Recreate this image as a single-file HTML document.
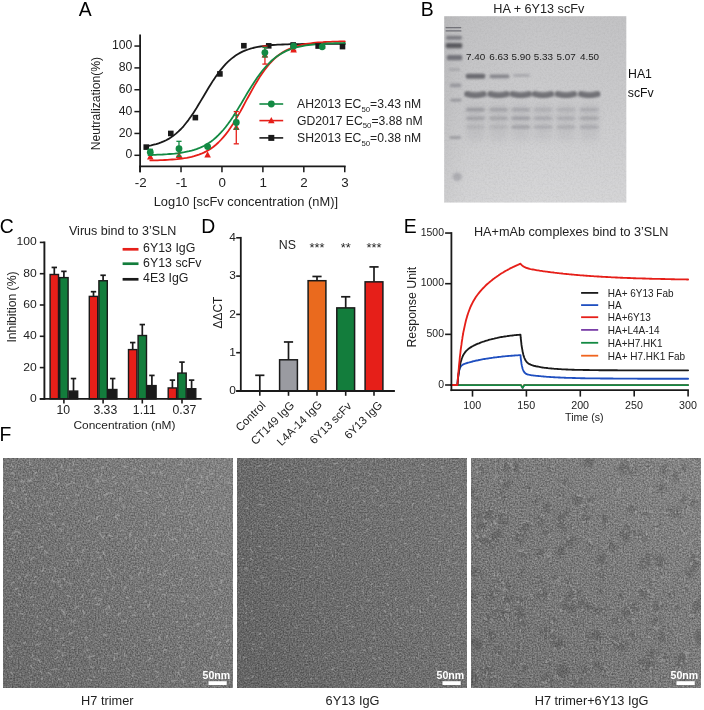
<!DOCTYPE html>
<html lang="en"><head><meta charset="utf-8"><title>Figure</title>
<style>
html,body{margin:0;padding:0;background:#fff;}
body{width:704px;height:710px;overflow:hidden;font-family:"Liberation Sans",Arial,sans-serif;}
svg text{font-family:"Liberation Sans",Arial,sans-serif;}
</style></head><body>
<svg width="704" height="710" viewBox="0 0 704 710" font-family='"Liberation Sans", Arial, Helvetica, sans-serif' style="display:block;will-change:transform">
<rect width="704" height="710" fill="#fff"/>
<defs><filter id="blur0" x="-2%" y="-2%" width="104%" height="104%"><feGaussianBlur stdDeviation="0.45"/></filter><filter id="blur1" x="-5%" y="-5%" width="110%" height="110%"><feGaussianBlur stdDeviation="1.4"/></filter>
<filter id="grain0" x="0" y="0" width="100%" height="100%" color-interpolation-filters="sRGB">
<feTurbulence type="fractalNoise" baseFrequency="0.65" numOctaves="2" seed="3" result="n"/>
<feColorMatrix in="n" type="matrix" values="0.4 0 0 0 0.262  0.4 0 0 0 0.262  0.4 0 0 0 0.262  0 0 0 0 1"/>
<feComposite in2="SourceGraphic" operator="in"/>
</filter>
<filter id="grain1" x="0" y="0" width="100%" height="100%" color-interpolation-filters="sRGB">
<feTurbulence type="fractalNoise" baseFrequency="0.65" numOctaves="2" seed="11" result="n"/>
<feColorMatrix in="n" type="matrix" values="0.38 0 0 0 0.242  0.38 0 0 0 0.242  0.38 0 0 0 0.242  0 0 0 0 1"/>
<feComposite in2="SourceGraphic" operator="in"/>
</filter>
<filter id="grain2" x="0" y="0" width="100%" height="100%" color-interpolation-filters="sRGB">
<feTurbulence type="fractalNoise" baseFrequency="0.65" numOctaves="2" seed="23" result="n"/>
<feColorMatrix in="n" type="matrix" values="0.4 0 0 0 0.278  0.4 0 0 0 0.278  0.4 0 0 0 0.278  0 0 0 0 1"/>
<feComposite in2="SourceGraphic" operator="in"/>
</filter>
<linearGradient id="emg0" x1="0" y1="1" x2="1" y2="0"><stop offset="0" stop-color="#000" stop-opacity="0.10"/><stop offset="0.5" stop-color="#000" stop-opacity="0"/><stop offset="0.5" stop-color="#fff" stop-opacity="0"/><stop offset="1" stop-color="#fff" stop-opacity="0.09"/></linearGradient>
<linearGradient id="emg1" x1="0" y1="0.75" x2="1" y2="0.25"><stop offset="0" stop-color="#000" stop-opacity="0.08"/><stop offset="0.5" stop-color="#000" stop-opacity="0"/><stop offset="0.5" stop-color="#fff" stop-opacity="0"/><stop offset="1" stop-color="#fff" stop-opacity="0.05"/></linearGradient>
<linearGradient id="emg2" x1="0" y1="1" x2="1" y2="0"><stop offset="0" stop-color="#000" stop-opacity="0.08"/><stop offset="0.5" stop-color="#000" stop-opacity="0"/><stop offset="0.5" stop-color="#fff" stop-opacity="0"/><stop offset="1" stop-color="#fff" stop-opacity="0.08"/></linearGradient>
<clipPath id="clip3"><rect x="471" y="458" width="230" height="230"/></clipPath></defs>
<rect x="3.00" y="458.00" width="230.00" height="230.00" fill="#777" filter="url(#grain0)"/>
<rect x="3.00" y="458.00" width="230.00" height="230.00" fill="url(#emg0)"/>
<path d="M11.5 464.4L13.1 467.5M13.7 473.1L10.9 473.2M14.8 486.5L14.3 489.7M11.9 490.9L14.2 491.6M11.4 500.4L12.2 503.6M10.5 516.0L8.1 518.1M16.0 531.7L13.9 532.9M9.3 538.4L11.7 538.8M12.2 548.9L14.3 550.0M6.8 570.2L9.6 571.5M13.9 582.1L11.5 583.2M12.7 644.8L12.1 646.3M7.6 647.7L9.3 650.5M9.5 656.5L12.2 656.7M10.8 672.2L12.4 674.0M20.5 481.3L23.2 481.8M24.6 490.1L22.3 491.2M17.7 505.1L17.9 507.8M20.9 519.2L19.2 520.4M17.5 531.5L20.1 533.4M21.6 561.1L22.9 563.1M18.8 576.6L20.2 577.4M17.6 588.1L15.0 589.6M18.5 593.6L20.1 595.3M16.3 604.0L17.6 605.8M20.2 613.2L23.1 614.0M25.3 642.1L24.0 643.0M29.7 462.6L30.4 464.4M31.3 480.2L27.9 480.2M31.0 480.7L27.7 480.9M24.6 494.6L26.5 494.9M25.9 498.1L26.0 501.6M33.1 557.3L30.9 559.5M28.0 574.1L25.8 576.3M32.8 596.1L30.1 597.8M33.3 604.3L33.0 606.1M32.8 655.2L32.4 656.6M33.4 658.7L35.8 659.1M30.6 665.5L32.8 668.1M31.6 681.6L30.4 684.9M36.4 472.1L34.5 474.0M43.8 496.8L44.2 499.2M38.1 505.0L40.0 506.7M38.0 523.3L39.3 524.0M39.4 528.7L40.4 529.7M42.4 546.8L38.7 547.6M43.4 568.1L42.3 571.5M36.1 576.5L34.7 577.3M36.1 581.9L35.1 583.6M37.5 615.6L37.2 617.3M40.7 623.7L38.2 624.1M37.5 631.5L36.8 633.7M39.6 644.3L36.2 644.7M38.3 659.2L40.0 662.2M40.6 671.2L41.7 673.1M42.3 677.7L42.1 679.3M54.0 477.7L52.3 478.1M43.5 488.1L45.7 488.6M46.9 500.8L47.2 503.1M49.6 513.6L52.1 514.1M44.9 551.1L47.1 553.2M52.1 580.2L53.9 581.9M53.0 596.5L50.7 597.1M47.5 619.1L46.6 620.3M50.5 628.1L50.3 629.9M48.2 672.8L51.0 674.2M61.7 465.3L61.8 468.2M55.9 473.7L57.0 476.1M59.3 483.0L57.9 484.4M60.2 503.5L59.4 505.8M54.3 524.3L55.5 526.0M59.9 528.5L61.8 531.3M54.6 567.8L55.3 571.5M59.2 581.1L57.9 582.9M60.8 584.4L60.4 586.8M61.2 609.4L62.9 611.5M55.3 629.3L57.9 631.1M63.6 637.9L60.4 638.4M58.2 650.5L59.4 651.4M57.7 657.3L55.2 658.8M56.3 668.8L53.2 669.7M61.5 678.6L58.9 679.6M68.1 470.1L71.3 470.2M69.5 483.8L66.3 485.0M66.6 497.8L67.9 498.2M62.4 523.9L64.5 524.5M69.2 543.8L67.9 544.7M67.5 563.0L67.3 564.7M63.2 578.8L64.7 579.7M67.6 582.6L70.2 583.7M66.8 595.3L70.0 596.5M63.8 611.5L65.2 615.0M71.0 620.0L71.9 622.0M72.0 632.8L68.9 634.0M64.2 645.2L62.2 645.3M63.0 653.5L62.4 656.0M69.6 668.2L68.8 669.4M68.3 682.9L68.3 684.9M73.1 462.8L73.6 465.0M72.9 482.0L75.1 483.5M76.1 494.9L78.8 495.4M76.4 502.9L74.8 505.3M79.8 535.3L77.9 536.3M71.8 547.6L72.0 550.9M77.5 558.5L78.3 562.1M77.8 606.2L74.8 608.4M74.9 619.8L73.5 621.9M72.5 647.2L73.6 648.7M86.3 485.2L87.5 487.1M90.0 520.8L87.9 521.1M83.2 549.6L82.1 552.4M89.4 579.4L87.9 580.9M82.8 594.8L82.0 597.3M82.9 610.2L84.2 613.7M85.1 637.2L87.4 637.4M86.1 638.2L86.1 640.0M86.2 649.5L87.7 650.3M89.3 655.7L90.0 659.2M88.2 679.1L91.7 680.1M94.2 468.4L93.3 470.0M96.6 478.7L98.4 480.7M98.4 481.5L95.5 481.9M99.1 497.4L99.7 499.3M99.1 515.6L96.8 517.8M97.3 517.0L96.6 519.7M95.8 551.9L98.6 552.7M93.4 573.5L91.6 575.4M95.1 589.4L92.5 591.0M96.8 597.3L94.8 598.4M95.9 604.2L99.7 604.5M94.0 656.0L90.4 656.7M90.6 666.3L93.2 667.8M93.4 676.0L94.2 677.4M103.5 466.7L101.7 468.2M101.7 474.6L100.2 476.8M102.2 479.9L103.4 481.2M107.5 493.8L104.0 495.0M99.6 533.3L101.6 535.7M104.5 535.8L102.4 537.9M103.0 552.0L104.5 554.7M100.2 557.0L100.2 559.0M107.9 576.8L106.4 579.4M104.3 589.0L105.3 592.1M101.8 599.6L98.8 600.9M107.0 608.1L105.9 609.2M106.7 612.8L107.4 614.5M104.1 634.1L106.6 636.0M105.6 668.3L102.0 668.3M115.2 476.2L112.3 478.0M117.6 482.7L115.0 483.9M109.2 493.1L112.6 493.3M115.3 516.3L117.6 519.3M108.7 535.4L111.9 536.5M107.7 568.7L110.1 571.3M112.4 575.8L113.5 576.7M112.9 587.7L112.4 589.4M108.9 605.2L109.4 608.4M117.3 653.2L114.7 653.7M114.5 657.4L114.0 660.6M123.1 466.0L126.3 466.7M121.9 482.8L124.3 484.1M120.2 497.6L119.5 500.1M123.3 504.3L123.6 507.1M117.5 514.6L119.3 515.4M122.9 529.6L120.4 531.1M125.8 537.3L124.9 538.4M125.6 587.0L124.1 589.7M126.4 597.9L128.0 598.0M121.0 613.0L118.2 614.5M126.0 620.8L123.0 621.2M121.5 639.0L122.2 640.8M124.3 653.1L124.7 656.3M135.0 468.0L133.2 469.5M132.0 477.2L132.1 480.0M133.7 507.3L132.0 507.6M130.2 532.9L130.3 536.5M135.4 540.7L135.5 542.1M136.0 545.1L135.6 548.7M131.0 576.2L131.3 579.4M131.0 606.7L128.6 607.8M133.1 614.4L135.4 615.5M134.9 644.4L135.3 646.2M127.3 668.5L129.4 670.0M132.9 673.7L132.9 676.3M141.3 465.3L142.7 466.2M139.4 470.8L142.4 472.9M137.3 485.5L137.1 487.5M140.8 490.8L137.2 491.5M144.9 498.5L144.1 500.6M143.0 539.1L146.1 540.5M140.6 551.4L142.3 552.9M142.5 567.3L141.5 568.8M140.5 572.1L138.6 575.2M137.5 591.4L140.3 591.5M146.5 601.6L144.6 601.8M151.1 472.8L154.5 472.9M145.0 491.6L147.6 493.4M146.4 522.2L146.4 524.9M148.2 568.8L148.2 571.1M150.9 585.2L152.8 585.6M150.0 603.8L147.7 606.8M152.7 613.6L154.1 616.3M151.4 638.8L148.8 640.1M150.7 658.2L148.0 660.2M146.3 682.0L146.9 683.3M158.8 462.7L159.3 464.6M160.1 472.0L162.5 473.8M159.1 494.2L161.2 497.2M161.7 513.1L164.9 514.4M156.0 534.4L154.2 535.9M160.7 549.4L163.7 551.6M159.2 574.1L161.7 574.7M161.7 589.6L159.8 589.7M165.2 594.2L162.7 594.5M158.9 635.8L160.0 639.3M155.6 671.6L157.5 672.3M158.4 676.0L156.7 677.1M165.5 508.6L165.7 510.3M168.5 532.2L169.0 534.8M173.6 539.1L170.5 539.7M170.3 559.0L169.6 560.6M167.8 570.1L164.5 571.3M165.3 573.3L163.7 575.6M171.9 594.9L173.6 595.2M167.1 635.7L166.8 637.7M166.4 649.7L163.4 650.9M174.6 680.5L171.4 681.0M181.6 462.7L180.2 464.4M183.5 492.5L180.7 492.6M182.5 498.5L179.2 500.3M180.4 510.8L182.3 511.8M180.3 529.2L178.0 529.8M174.9 538.4L176.8 540.7M177.1 554.6L174.1 555.7M182.7 578.7L179.7 579.6M175.2 585.0L172.4 585.6M180.9 595.6L182.4 596.1M177.5 621.7L176.2 622.6M180.1 636.1L178.7 637.8M180.5 645.7L180.2 647.6M179.3 655.3L180.9 658.2M177.6 672.2L180.0 675.1M189.2 478.6L186.4 480.2M186.4 485.5L186.1 487.7M189.0 514.7L192.2 515.1M190.4 522.7L192.1 524.5M184.5 535.0L186.5 536.2M189.5 549.8L187.6 550.0M193.4 558.0L190.6 558.7M189.0 594.4L187.4 596.7M181.4 601.2L184.5 601.5M186.6 615.3L186.0 617.7M184.2 662.0L182.4 662.4M181.4 667.4L184.6 667.9M182.9 679.4L183.8 682.5M200.5 474.7L201.9 477.9M201.5 481.3L198.2 483.3M193.6 504.8L191.8 507.4M197.5 528.0L197.7 531.0M193.0 550.7L193.4 552.0M194.5 556.6L195.4 557.9M196.9 567.6L195.1 568.0M194.8 575.1L197.3 575.6M196.4 597.6L198.1 598.8M200.1 614.0L200.0 616.5M198.8 624.1L197.0 624.7M193.7 651.1L193.3 652.9M193.9 681.7L192.1 682.7M207.5 476.1L207.1 479.4M201.4 491.8L203.5 493.4M209.3 506.1L208.8 508.4M206.1 510.7L204.2 511.1M207.3 520.7L206.5 522.2M203.5 613.2L203.6 614.6M208.8 630.6L212.0 632.4M204.9 667.0L206.6 667.1M213.0 473.2L211.2 473.8M217.6 485.6L215.3 487.5M217.8 523.1L217.5 525.0M217.4 530.8L218.1 532.2M215.3 550.3L218.1 552.1M210.9 583.2L212.6 585.7M214.7 591.4L214.8 593.8M217.6 617.5L216.3 618.7M215.3 636.8L213.9 638.2M220.9 642.1L217.9 644.2M218.9 654.4L215.9 655.6M212.1 655.9L210.9 658.6M222.6 476.1L220.4 476.4M227.2 481.9L230.0 482.8M224.0 507.3L223.8 509.2M220.9 552.6L224.1 553.9M222.0 579.8L221.0 583.3M219.7 589.0L220.6 590.9M219.3 607.2L221.3 607.4M226.0 625.9L226.1 627.8M223.8 633.9L223.0 635.1M229.5 639.3L226.7 641.6M219.5 662.7L220.3 665.4M222.5 678.5L221.9 679.7" stroke="#c2c2c2" stroke-width="1.45" stroke-linecap="round" fill="none" opacity="0.42" filter="url(#blur0)"/>
<text transform="translate(202.5,679.0) scale(1.02,1)" font-size="10.4" text-anchor="start" fill="#fff" font-weight="bold">50nm</text>
<rect x="208.50" y="681.20" width="18.20" height="3.80" fill="#fff"/>
<text transform="translate(107.3,704.5) scale(1.03,1)" font-size="12.4" text-anchor="middle" fill="#222">H7 trimer</text>
<rect x="237.00" y="458.00" width="230.00" height="230.00" fill="#777" filter="url(#grain1)"/>
<rect x="237.00" y="458.00" width="230.00" height="230.00" fill="url(#emg1)"/>
<path d="M245.4 486.9L246.4 487.0M242.2 495.1L243.3 496.7M248.0 508.2L246.2 508.3M248.3 529.8L247.1 530.2M250.1 547.7L250.9 549.4M243.2 558.7L241.8 558.7M245.0 568.0L247.2 569.5M244.5 604.2L246.0 606.4M246.4 612.5L245.6 613.5M246.7 622.7L244.9 623.0M243.5 656.9L244.6 657.6M249.1 677.7L247.7 678.7M259.8 465.4L257.9 466.1M259.8 494.8L259.1 496.1M258.8 504.1L261.4 504.8M258.2 522.0L258.1 523.1M251.0 532.2L251.9 533.3M259.2 546.3L260.7 546.7M251.3 550.7L252.3 551.8M250.5 558.4L252.7 559.8M257.4 569.8L259.3 570.0M255.6 580.9L256.5 583.4M252.1 610.1L251.4 611.6M253.5 618.4L252.0 619.6M261.0 633.3L259.0 634.4M254.2 644.2L252.9 644.4M251.8 648.7L253.6 649.7M253.7 676.1L251.8 677.6M262.6 496.2L262.7 497.3M264.5 504.2L263.3 505.8M269.0 514.6L270.1 515.3M260.9 577.0L263.5 577.6M269.0 582.5L268.7 584.9M262.1 642.0L261.9 643.4M259.8 647.3L262.2 647.9M271.2 464.0L269.1 465.2M278.5 516.5L280.4 516.7M277.3 525.5L276.0 525.6M269.4 547.9L270.8 548.1M276.0 557.8L277.5 558.5M277.9 605.0L276.2 606.6M272.7 632.1L274.0 633.3M278.3 643.4L279.0 644.9M274.2 652.5L273.8 653.5M275.2 668.2L276.8 668.5M276.5 679.8L274.6 680.7M280.3 467.3L280.5 469.0M288.8 479.0L289.6 481.3M279.8 517.2L281.0 517.8M282.8 557.6L281.4 559.7M283.6 605.1L284.2 606.4M285.7 647.9L284.8 649.0M286.0 682.4L287.0 684.6M292.4 463.5L291.4 463.8M291.7 507.7L292.9 509.7M297.9 514.5L299.6 514.8M291.5 556.4L293.0 556.6M292.6 567.9L294.7 568.9M290.9 587.4L290.3 588.5M296.8 624.9L297.3 626.5M295.3 627.5L296.4 628.5M296.2 678.2L295.7 680.6M304.2 468.4L305.5 470.2M301.8 478.6L303.6 480.0M308.9 482.0L306.4 482.3M299.3 504.7L301.0 505.2M301.6 615.2L302.4 616.0M304.2 644.9L303.0 646.5M305.9 655.6L307.6 655.7M317.6 494.9L317.8 496.5M314.9 533.9L314.6 535.3M315.9 544.1L317.5 545.1M312.4 552.4L310.8 552.7M317.9 567.0L315.5 567.4M310.9 575.6L310.3 577.2M314.5 601.7L313.0 602.3M313.8 607.0L315.0 607.1M317.5 620.7L318.4 622.1M311.8 633.5L313.0 634.1M314.9 645.7L315.6 646.4M313.5 658.4L314.0 659.7M311.3 677.9L311.0 680.0M320.6 465.5L318.3 466.9M319.4 496.0L320.7 497.9M327.9 500.7L326.4 503.0M324.8 510.0L326.7 511.0M324.5 532.0L325.2 533.4M321.7 544.5L321.6 545.9M322.8 581.8L323.9 582.3M319.3 612.6L321.0 613.2M324.3 620.9L324.4 622.2M326.9 631.8L325.9 632.2M326.1 652.7L324.7 653.7M326.1 657.3L327.7 658.9M337.5 462.7L335.3 463.9M329.9 477.6L330.5 479.8M331.4 481.6L329.3 482.9M331.3 516.4L332.3 517.3M335.8 538.1L333.1 538.6M332.5 555.2L333.0 557.2M330.2 568.8L329.2 568.9M328.4 578.0L329.4 578.4M334.0 598.5L332.8 598.6M336.8 626.2L336.9 627.8M333.0 652.4L331.7 653.1M333.9 667.9L331.8 669.8M344.5 468.9L344.1 471.4M341.8 500.1L343.1 501.4M342.4 543.6L344.3 544.5M344.2 616.6L344.8 617.6M342.7 650.7L344.7 652.2M343.7 679.3L344.1 680.4M352.8 464.8L351.8 466.7M355.2 488.1L352.7 489.2M353.5 507.2L352.7 508.2M356.0 563.2L357.1 564.8M352.0 594.8L353.9 594.8M348.5 605.4L346.7 606.8M349.8 620.6L347.8 621.8M351.8 626.2L354.4 627.1M351.3 650.2L353.2 652.1M352.9 669.6L354.1 670.7M360.4 461.7L359.0 462.6M358.9 471.4L359.5 472.7M358.0 488.1L358.6 489.1M363.1 500.4L365.0 501.8M366.7 518.8L366.0 519.9M366.0 575.3L366.5 576.8M363.3 578.8L362.0 579.0M362.2 590.9L363.5 592.9M361.6 606.6L362.2 609.3M361.8 639.4L363.1 640.2M365.1 650.4L363.6 650.6M357.0 682.5L358.9 683.4M369.1 473.6L370.8 474.9M374.0 486.3L372.1 487.2M372.3 496.5L372.1 497.7M374.3 501.7L373.2 503.2M368.7 518.9L369.1 520.5M367.1 529.2L366.6 531.1M372.3 548.8L372.7 550.9M372.3 559.1L371.1 559.4M372.3 583.3L371.3 584.5M370.9 592.1L369.2 592.1M367.2 599.9L369.8 601.0M374.9 630.9L373.7 633.3M374.7 637.2L373.1 638.4M369.3 647.6L371.8 648.1M373.4 657.7L375.2 659.5M370.2 679.4L369.0 679.9M379.3 475.0L381.2 475.4M377.0 489.0L377.1 490.5M378.0 491.2L375.8 492.3M382.7 504.9L380.4 505.6M379.4 559.6L378.3 560.2M383.4 591.7L382.5 594.2M384.1 610.4L385.8 611.7M384.3 618.9L383.4 619.9M379.1 629.4L379.3 630.4M379.0 657.7L380.3 659.4M379.4 668.1L380.5 668.8M377.9 679.2L378.1 680.4M394.1 476.3L393.6 477.9M394.9 492.7L393.6 494.6M390.8 545.6L391.4 548.0M387.4 574.1L385.8 574.4M386.4 584.3L387.9 585.7M387.1 603.5L388.7 605.5M390.6 612.8L391.0 615.5M395.4 631.7L394.8 633.4M393.3 681.2L394.7 683.0M402.9 470.0L404.1 471.2M399.9 487.5L401.1 488.8M400.4 501.6L398.6 502.5M401.3 519.4L403.8 520.2M396.4 551.1L395.6 552.5M397.1 564.7L396.0 564.9M402.8 569.1L403.0 570.7M396.2 596.9L395.3 599.5M398.1 608.9L396.4 608.9M398.2 622.4L397.2 624.4M400.3 628.1L402.1 628.4M396.0 651.8L398.2 653.6M409.7 480.7L411.0 481.1M410.2 482.4L409.3 484.5M413.6 503.4L412.0 505.2M406.5 543.6L403.9 544.0M406.7 569.1L406.5 570.3M407.6 579.6L408.8 581.1M410.7 606.5L411.8 606.9M406.9 611.0L408.4 612.9M409.6 668.0L409.9 670.5M421.8 464.3L424.2 465.6M422.1 474.7L422.7 476.7M424.5 482.1L422.7 482.3M417.0 517.4L415.5 519.1M414.9 532.5L416.1 532.6M418.8 554.4L417.7 556.6M419.7 610.4L420.7 612.0M416.1 625.5L413.6 626.5M422.5 626.8L422.5 629.4M417.0 657.7L418.2 658.9M424.8 501.3L426.7 501.7M430.7 516.4L431.1 517.8M433.3 571.8L433.3 572.8M430.8 595.4L432.8 595.4M427.7 599.4L428.5 601.3M434.1 633.0L433.7 634.5M425.0 648.2L424.2 649.0M441.7 466.7L442.3 469.1M436.1 495.4L438.8 496.2M435.0 506.8L435.8 508.2M444.4 514.6L442.7 515.9M434.9 538.5L437.0 538.8M441.1 540.9L439.0 541.4M440.3 564.5L438.9 566.0M437.2 581.2L437.8 583.4M435.8 596.7L434.7 597.0M435.1 604.7L435.6 607.0M436.2 663.6L437.4 663.8M436.9 669.4L435.9 671.1M453.5 489.1L453.0 491.7M447.9 515.7L446.8 516.3M451.4 519.5L451.5 520.6M450.1 550.3L448.3 550.8M448.3 559.9L449.1 562.2M449.0 577.7L450.8 578.7M451.1 632.5L451.0 634.2M449.1 644.9L447.7 645.7M451.7 652.3L451.9 655.0M448.6 672.9L449.7 673.9M448.9 678.7L448.6 680.1M456.0 471.1L456.9 473.2M460.7 495.4L460.2 498.1M460.5 502.6L460.7 504.5M453.8 524.0L455.3 524.5M457.1 533.3L459.3 533.5M454.0 545.1L453.7 546.7M457.2 561.5L455.4 563.2M461.6 586.7L462.7 587.6M460.0 595.3L459.6 596.4M457.8 603.6L457.1 606.2M456.0 613.3L455.0 614.7M459.3 624.6L458.3 625.7M454.8 633.2L453.8 634.3M455.2 657.4L456.2 658.5" stroke="#c0c0c0" stroke-width="1.2" stroke-linecap="round" fill="none" opacity="0.42" filter="url(#blur0)"/>
<text transform="translate(436.5,679.0) scale(1.02,1)" font-size="10.4" text-anchor="start" fill="#fff" font-weight="bold">50nm</text>
<rect x="442.50" y="681.20" width="18.20" height="3.80" fill="#fff"/>
<text transform="translate(352.5,704.5) scale(1.03,1)" font-size="12.4" text-anchor="middle" fill="#222">6Y13 IgG</text>
<rect x="471.00" y="458.00" width="230.00" height="230.00" fill="#777" filter="url(#grain2)"/>
<rect x="471.00" y="458.00" width="230.00" height="230.00" fill="url(#emg2)"/>
<g fill="#2a2a2a" opacity="0.21" filter="url(#blur1)" clip-path="url(#clip3)"><circle cx="479.7" cy="469.3" r="2.9"/><circle cx="481.0" cy="470.9" r="2.4"/><circle cx="481.3" cy="467.9" r="2.3"/><circle cx="473.2" cy="493.5" r="4.0"/><circle cx="477.4" cy="497.8" r="2.5"/><circle cx="471.1" cy="489.6" r="2.3"/><circle cx="476.9" cy="513.8" r="3.9"/><circle cx="477.1" cy="515.7" r="3.5"/><circle cx="482.8" cy="525.0" r="4.1"/><circle cx="479.0" cy="526.8" r="3.2"/><circle cx="480.9" cy="540.0" r="3.4"/><circle cx="484.4" cy="541.0" r="2.8"/><circle cx="475.3" cy="571.7" r="4.4"/><circle cx="478.4" cy="574.4" r="2.8"/><circle cx="473.2" cy="570.3" r="2.4"/><circle cx="474.1" cy="596.8" r="4.2"/><circle cx="472.3" cy="595.0" r="3.3"/><circle cx="469.9" cy="600.3" r="2.6"/><circle cx="473.9" cy="642.4" r="4.1"/><circle cx="469.6" cy="641.2" r="3.4"/><circle cx="480.2" cy="644.9" r="4.3"/><circle cx="477.1" cy="644.2" r="2.8"/><circle cx="476.2" cy="648.3" r="2.2"/><circle cx="486.9" cy="671.1" r="3.9"/><circle cx="489.3" cy="669.7" r="3.1"/><circle cx="484.7" cy="671.0" r="2.8"/><circle cx="474.6" cy="677.9" r="4.9"/><circle cx="472.6" cy="674.3" r="3.3"/><circle cx="471.1" cy="682.6" r="3.5"/><circle cx="495.9" cy="476.4" r="2.2"/><circle cx="495.6" cy="476.1" r="1.9"/><circle cx="489.5" cy="513.9" r="4.7"/><circle cx="490.7" cy="513.2" r="3.6"/><circle cx="485.9" cy="517.1" r="3.2"/><circle cx="492.8" cy="522.4" r="2.0"/><circle cx="493.2" cy="523.0" r="1.7"/><circle cx="493.3" cy="521.0" r="1.7"/><circle cx="495.5" cy="537.4" r="5.1"/><circle cx="497.7" cy="534.3" r="4.2"/><circle cx="492.6" cy="545.2" r="4.7"/><circle cx="490.1" cy="543.0" r="4.0"/><circle cx="497.4" cy="572.5" r="2.4"/><circle cx="499.0" cy="572.2" r="1.9"/><circle cx="500.9" cy="582.4" r="2.4"/><circle cx="502.1" cy="581.2" r="1.6"/><circle cx="498.7" cy="580.9" r="1.8"/><circle cx="492.2" cy="592.3" r="4.3"/><circle cx="490.3" cy="596.3" r="3.7"/><circle cx="494.3" cy="591.4" r="3.6"/><circle cx="496.9" cy="610.8" r="2.6"/><circle cx="496.0" cy="610.8" r="1.6"/><circle cx="488.7" cy="618.7" r="3.2"/><circle cx="488.8" cy="618.1" r="2.5"/><circle cx="486.1" cy="621.0" r="2.3"/><circle cx="492.3" cy="636.7" r="3.6"/><circle cx="491.2" cy="637.2" r="3.2"/><circle cx="490.8" cy="633.2" r="2.9"/><circle cx="498.6" cy="650.7" r="3.8"/><circle cx="499.0" cy="650.0" r="2.5"/><circle cx="499.8" cy="651.9" r="2.1"/><circle cx="487.5" cy="669.4" r="3.1"/><circle cx="490.0" cy="671.1" r="2.1"/><circle cx="493.2" cy="679.2" r="2.8"/><circle cx="491.7" cy="681.6" r="2.4"/><circle cx="491.2" cy="677.9" r="2.2"/><circle cx="504.4" cy="466.0" r="3.6"/><circle cx="504.9" cy="469.4" r="2.6"/><circle cx="506.8" cy="468.8" r="2.6"/><circle cx="506.7" cy="485.0" r="4.2"/><circle cx="508.6" cy="483.3" r="3.2"/><circle cx="502.7" cy="496.0" r="2.9"/><circle cx="504.9" cy="498.9" r="2.2"/><circle cx="500.8" cy="493.8" r="2.4"/><circle cx="503.8" cy="512.2" r="2.5"/><circle cx="503.8" cy="513.0" r="2.0"/><circle cx="504.7" cy="509.4" r="1.4"/><circle cx="501.8" cy="520.4" r="4.1"/><circle cx="502.7" cy="517.0" r="3.6"/><circle cx="505.9" cy="522.8" r="2.3"/><circle cx="508.0" cy="586.5" r="3.1"/><circle cx="507.3" cy="584.9" r="1.8"/><circle cx="511.4" cy="588.4" r="2.4"/><circle cx="508.0" cy="600.6" r="3.7"/><circle cx="512.1" cy="597.3" r="2.2"/><circle cx="506.8" cy="597.5" r="2.1"/><circle cx="503.6" cy="614.3" r="4.7"/><circle cx="500.3" cy="615.1" r="3.4"/><circle cx="506.4" cy="618.0" r="2.2"/><circle cx="507.2" cy="619.4" r="1.8"/><circle cx="512.1" cy="662.6" r="3.1"/><circle cx="514.3" cy="665.4" r="1.9"/><circle cx="515.1" cy="662.1" r="2.4"/><circle cx="515.9" cy="468.7" r="3.8"/><circle cx="516.2" cy="466.1" r="3.4"/><circle cx="514.9" cy="468.8" r="2.6"/><circle cx="529.3" cy="488.2" r="2.7"/><circle cx="527.7" cy="487.7" r="2.3"/><circle cx="527.1" cy="525.5" r="4.0"/><circle cx="524.4" cy="526.9" r="3.1"/><circle cx="518.6" cy="538.1" r="5.1"/><circle cx="522.4" cy="533.2" r="3.6"/><circle cx="521.5" cy="539.5" r="3.4"/><circle cx="522.1" cy="553.6" r="2.8"/><circle cx="524.6" cy="555.6" r="1.5"/><circle cx="524.7" cy="556.3" r="2.1"/><circle cx="519.1" cy="572.2" r="3.5"/><circle cx="520.5" cy="571.6" r="2.9"/><circle cx="519.5" cy="599.5" r="3.1"/><circle cx="522.1" cy="600.0" r="2.2"/><circle cx="519.3" cy="614.6" r="5.0"/><circle cx="518.2" cy="610.2" r="4.3"/><circle cx="522.7" cy="625.2" r="4.1"/><circle cx="526.9" cy="628.3" r="2.3"/><circle cx="520.7" cy="624.7" r="3.0"/><circle cx="519.4" cy="647.2" r="2.9"/><circle cx="518.8" cy="650.0" r="1.7"/><circle cx="525.0" cy="667.6" r="3.2"/><circle cx="523.1" cy="669.1" r="2.2"/><circle cx="522.5" cy="666.0" r="2.1"/><circle cx="517.2" cy="684.4" r="2.3"/><circle cx="519.1" cy="686.6" r="1.5"/><circle cx="515.2" cy="685.9" r="1.3"/><circle cx="537.4" cy="497.1" r="3.9"/><circle cx="534.2" cy="501.4" r="2.7"/><circle cx="540.4" cy="496.7" r="2.5"/><circle cx="542.5" cy="516.0" r="2.2"/><circle cx="543.9" cy="517.3" r="1.8"/><circle cx="540.2" cy="522.4" r="3.6"/><circle cx="538.9" cy="518.9" r="3.0"/><circle cx="538.6" cy="520.8" r="2.8"/><circle cx="540.6" cy="552.9" r="4.3"/><circle cx="537.8" cy="554.0" r="2.8"/><circle cx="539.9" cy="581.0" r="3.0"/><circle cx="537.2" cy="578.3" r="1.9"/><circle cx="542.2" cy="583.4" r="1.7"/><circle cx="529.7" cy="597.2" r="2.5"/><circle cx="527.3" cy="598.0" r="1.7"/><circle cx="551.3" cy="468.8" r="2.7"/><circle cx="548.4" cy="469.4" r="1.9"/><circle cx="553.4" cy="467.9" r="1.7"/><circle cx="547.1" cy="508.1" r="4.9"/><circle cx="548.2" cy="507.5" r="4.4"/><circle cx="545.6" cy="531.9" r="4.4"/><circle cx="546.2" cy="529.6" r="3.2"/><circle cx="548.0" cy="554.6" r="2.1"/><circle cx="546.7" cy="554.5" r="1.8"/><circle cx="556.8" cy="578.2" r="2.6"/><circle cx="554.4" cy="577.2" r="2.0"/><circle cx="544.0" cy="594.0" r="5.1"/><circle cx="540.2" cy="596.0" r="4.0"/><circle cx="553.1" cy="620.2" r="3.0"/><circle cx="552.7" cy="617.7" r="1.9"/><circle cx="547.0" cy="634.1" r="4.8"/><circle cx="551.4" cy="633.6" r="2.6"/><circle cx="543.0" cy="630.4" r="3.6"/><circle cx="557.0" cy="643.7" r="4.7"/><circle cx="554.9" cy="640.5" r="4.0"/><circle cx="561.0" cy="644.1" r="4.0"/><circle cx="548.7" cy="661.7" r="2.3"/><circle cx="547.8" cy="659.3" r="1.6"/><circle cx="549.6" cy="663.3" r="2.0"/><circle cx="546.5" cy="678.0" r="4.1"/><circle cx="550.7" cy="681.7" r="2.5"/><circle cx="564.8" cy="484.0" r="3.2"/><circle cx="568.1" cy="482.3" r="1.8"/><circle cx="566.5" cy="481.4" r="2.4"/><circle cx="560.0" cy="494.8" r="3.8"/><circle cx="560.0" cy="495.0" r="2.6"/><circle cx="566.3" cy="514.3" r="4.0"/><circle cx="562.0" cy="515.3" r="3.2"/><circle cx="562.3" cy="515.9" r="2.6"/><circle cx="561.3" cy="523.0" r="4.9"/><circle cx="559.5" cy="517.7" r="2.6"/><circle cx="564.8" cy="528.0" r="3.4"/><circle cx="569.8" cy="542.4" r="4.5"/><circle cx="574.8" cy="540.1" r="2.9"/><circle cx="571.3" cy="540.7" r="4.0"/><circle cx="561.0" cy="552.3" r="4.9"/><circle cx="561.9" cy="547.1" r="3.1"/><circle cx="563.8" cy="551.7" r="3.8"/><circle cx="567.3" cy="582.4" r="2.9"/><circle cx="568.7" cy="583.5" r="2.1"/><circle cx="565.7" cy="584.0" r="2.2"/><circle cx="571.5" cy="594.9" r="3.4"/><circle cx="571.9" cy="597.7" r="1.7"/><circle cx="568.8" cy="598.6" r="2.8"/><circle cx="567.4" cy="606.2" r="5.1"/><circle cx="565.6" cy="607.6" r="2.7"/><circle cx="572.3" cy="607.9" r="4.0"/><circle cx="561.3" cy="672.5" r="4.9"/><circle cx="564.9" cy="670.3" r="3.9"/><circle cx="562.5" cy="667.8" r="3.7"/><circle cx="577.4" cy="500.6" r="4.6"/><circle cx="574.8" cy="498.5" r="2.8"/><circle cx="584.5" cy="506.9" r="3.0"/><circle cx="587.8" cy="509.8" r="1.6"/><circle cx="586.5" cy="507.1" r="2.2"/><circle cx="573.7" cy="525.6" r="2.6"/><circle cx="573.2" cy="528.4" r="2.0"/><circle cx="577.3" cy="592.8" r="3.4"/><circle cx="574.4" cy="592.7" r="3.0"/><circle cx="583.3" cy="603.6" r="5.0"/><circle cx="582.2" cy="603.7" r="2.6"/><circle cx="588.7" cy="608.2" r="2.8"/><circle cx="574.8" cy="619.0" r="2.7"/><circle cx="573.6" cy="617.0" r="1.4"/><circle cx="577.4" cy="621.3" r="1.8"/><circle cx="585.6" cy="636.9" r="2.8"/><circle cx="586.8" cy="640.0" r="1.7"/><circle cx="585.2" cy="636.1" r="2.2"/><circle cx="584.2" cy="669.3" r="4.1"/><circle cx="586.9" cy="673.1" r="2.9"/><circle cx="576.9" cy="682.3" r="3.5"/><circle cx="579.7" cy="679.5" r="2.0"/><circle cx="580.0" cy="682.9" r="2.0"/><circle cx="590.3" cy="461.9" r="4.6"/><circle cx="588.9" cy="460.2" r="4.1"/><circle cx="586.4" cy="462.9" r="2.9"/><circle cx="589.0" cy="500.7" r="3.5"/><circle cx="590.6" cy="498.1" r="2.3"/><circle cx="587.2" cy="498.5" r="1.9"/><circle cx="586.2" cy="518.9" r="4.6"/><circle cx="585.5" cy="516.2" r="3.3"/><circle cx="588.3" cy="540.7" r="2.1"/><circle cx="589.3" cy="540.2" r="1.4"/><circle cx="586.9" cy="541.9" r="1.1"/><circle cx="590.2" cy="547.4" r="3.3"/><circle cx="592.0" cy="547.4" r="1.7"/><circle cx="588.0" cy="544.3" r="2.1"/><circle cx="593.6" cy="607.6" r="2.8"/><circle cx="592.3" cy="608.0" r="2.4"/><circle cx="593.6" cy="607.5" r="1.9"/><circle cx="597.3" cy="636.6" r="4.9"/><circle cx="595.1" cy="633.3" r="3.7"/><circle cx="592.6" cy="633.9" r="3.6"/><circle cx="595.0" cy="650.2" r="3.8"/><circle cx="592.7" cy="651.8" r="2.1"/><circle cx="595.0" cy="663.2" r="3.3"/><circle cx="598.4" cy="665.2" r="2.7"/><circle cx="596.7" cy="666.1" r="2.3"/><circle cx="606.2" cy="522.2" r="4.5"/><circle cx="603.9" cy="517.5" r="3.2"/><circle cx="605.9" cy="521.0" r="3.9"/><circle cx="612.0" cy="546.6" r="4.8"/><circle cx="612.4" cy="544.0" r="3.4"/><circle cx="601.0" cy="560.4" r="4.5"/><circle cx="602.9" cy="556.2" r="3.6"/><circle cx="602.8" cy="563.2" r="3.8"/><circle cx="601.3" cy="573.8" r="3.9"/><circle cx="604.2" cy="575.2" r="2.3"/><circle cx="603.4" cy="576.4" r="2.9"/><circle cx="600.2" cy="590.6" r="3.2"/><circle cx="597.8" cy="590.8" r="2.1"/><circle cx="598.8" cy="587.8" r="1.9"/><circle cx="601.7" cy="610.9" r="4.5"/><circle cx="604.5" cy="610.1" r="3.2"/><circle cx="597.3" cy="611.3" r="3.0"/><circle cx="613.7" cy="640.0" r="3.7"/><circle cx="615.8" cy="638.4" r="2.9"/><circle cx="613.5" cy="644.0" r="2.8"/><circle cx="614.4" cy="646.0" r="2.3"/><circle cx="610.7" cy="644.2" r="2.5"/><circle cx="603.3" cy="670.8" r="2.7"/><circle cx="602.9" cy="671.6" r="1.9"/><circle cx="600.4" cy="668.9" r="2.0"/><circle cx="606.8" cy="674.8" r="2.4"/><circle cx="607.6" cy="672.6" r="1.6"/><circle cx="624.9" cy="466.0" r="5.1"/><circle cx="621.8" cy="469.3" r="4.2"/><circle cx="628.8" cy="471.0" r="3.7"/><circle cx="617.7" cy="489.5" r="2.3"/><circle cx="619.2" cy="489.8" r="1.9"/><circle cx="628.2" cy="527.3" r="3.1"/><circle cx="627.4" cy="530.1" r="1.8"/><circle cx="629.2" cy="529.1" r="1.8"/><circle cx="627.4" cy="535.7" r="4.5"/><circle cx="622.5" cy="533.1" r="3.2"/><circle cx="625.7" cy="537.8" r="3.7"/><circle cx="621.1" cy="597.5" r="3.0"/><circle cx="620.7" cy="594.3" r="2.3"/><circle cx="621.3" cy="600.3" r="2.1"/><circle cx="625.9" cy="611.9" r="5.0"/><circle cx="626.3" cy="610.0" r="2.9"/><circle cx="619.0" cy="620.8" r="3.6"/><circle cx="615.4" cy="621.3" r="3.1"/><circle cx="621.1" cy="646.4" r="4.3"/><circle cx="623.0" cy="646.5" r="2.2"/><circle cx="625.6" cy="642.9" r="2.4"/><circle cx="633.8" cy="468.7" r="3.5"/><circle cx="634.8" cy="468.8" r="3.1"/><circle cx="632.9" cy="471.0" r="2.7"/><circle cx="631.9" cy="508.3" r="3.9"/><circle cx="627.9" cy="511.6" r="2.0"/><circle cx="637.3" cy="533.1" r="3.8"/><circle cx="636.6" cy="533.8" r="2.6"/><circle cx="642.5" cy="591.8" r="4.4"/><circle cx="644.9" cy="596.1" r="3.5"/><circle cx="645.4" cy="593.7" r="3.1"/><circle cx="635.5" cy="607.7" r="4.2"/><circle cx="636.5" cy="607.3" r="2.5"/><circle cx="634.3" cy="604.7" r="3.1"/><circle cx="630.8" cy="621.0" r="2.5"/><circle cx="631.3" cy="620.5" r="1.7"/><circle cx="631.3" cy="634.1" r="3.7"/><circle cx="634.8" cy="637.5" r="2.5"/><circle cx="641.6" cy="661.9" r="4.0"/><circle cx="639.5" cy="664.2" r="2.3"/><circle cx="633.1" cy="681.2" r="3.0"/><circle cx="631.1" cy="681.4" r="2.0"/><circle cx="648.1" cy="467.3" r="3.1"/><circle cx="650.4" cy="464.1" r="2.7"/><circle cx="652.0" cy="489.7" r="2.0"/><circle cx="653.8" cy="488.3" r="1.4"/><circle cx="646.0" cy="513.8" r="3.3"/><circle cx="645.9" cy="510.9" r="2.4"/><circle cx="656.5" cy="526.0" r="2.7"/><circle cx="659.0" cy="525.8" r="2.3"/><circle cx="644.9" cy="536.8" r="3.4"/><circle cx="643.3" cy="537.9" r="2.7"/><circle cx="645.9" cy="536.3" r="1.7"/><circle cx="645.8" cy="561.6" r="5.1"/><circle cx="648.7" cy="557.5" r="4.1"/><circle cx="642.1" cy="566.3" r="3.6"/><circle cx="651.5" cy="582.0" r="2.8"/><circle cx="649.1" cy="583.8" r="2.4"/><circle cx="650.8" cy="593.9" r="2.2"/><circle cx="652.1" cy="593.4" r="1.3"/><circle cx="649.9" cy="594.5" r="1.4"/><circle cx="656.0" cy="607.7" r="4.0"/><circle cx="658.0" cy="603.4" r="3.4"/><circle cx="655.7" cy="620.9" r="3.6"/><circle cx="657.9" cy="617.8" r="1.9"/><circle cx="649.1" cy="634.6" r="2.4"/><circle cx="647.8" cy="632.8" r="2.0"/><circle cx="649.1" cy="632.7" r="1.7"/><circle cx="652.6" cy="654.2" r="4.6"/><circle cx="652.3" cy="654.4" r="3.7"/><circle cx="645.9" cy="665.2" r="5.2"/><circle cx="650.2" cy="663.3" r="4.2"/><circle cx="652.8" cy="679.0" r="2.5"/><circle cx="650.6" cy="676.6" r="1.5"/><circle cx="666.0" cy="468.7" r="4.1"/><circle cx="663.1" cy="471.4" r="2.9"/><circle cx="666.7" cy="479.1" r="2.1"/><circle cx="665.2" cy="479.1" r="1.6"/><circle cx="661.0" cy="488.6" r="5.1"/><circle cx="660.4" cy="488.0" r="4.1"/><circle cx="661.8" cy="484.6" r="3.1"/><circle cx="669.2" cy="513.5" r="3.5"/><circle cx="669.5" cy="510.7" r="2.9"/><circle cx="661.1" cy="562.5" r="5.0"/><circle cx="658.6" cy="558.6" r="3.5"/><circle cx="660.4" cy="564.3" r="3.5"/><circle cx="662.5" cy="573.7" r="2.8"/><circle cx="661.2" cy="572.6" r="1.6"/><circle cx="661.0" cy="603.5" r="2.9"/><circle cx="659.1" cy="604.5" r="1.7"/><circle cx="663.0" cy="605.6" r="2.4"/><circle cx="658.3" cy="627.1" r="2.4"/><circle cx="660.6" cy="626.2" r="1.9"/><circle cx="662.0" cy="636.4" r="4.9"/><circle cx="660.0" cy="637.2" r="2.5"/><circle cx="662.7" cy="632.2" r="2.7"/><circle cx="665.1" cy="656.8" r="3.3"/><circle cx="665.2" cy="654.4" r="2.2"/><circle cx="666.9" cy="658.8" r="2.6"/><circle cx="683.9" cy="467.5" r="3.7"/><circle cx="683.7" cy="469.4" r="2.8"/><circle cx="675.9" cy="476.8" r="4.9"/><circle cx="675.0" cy="475.8" r="3.2"/><circle cx="683.6" cy="499.1" r="3.6"/><circle cx="683.0" cy="502.1" r="1.9"/><circle cx="682.6" cy="500.9" r="1.9"/><circle cx="678.5" cy="513.6" r="4.2"/><circle cx="676.0" cy="509.4" r="2.6"/><circle cx="674.5" cy="516.3" r="2.5"/><circle cx="683.6" cy="532.2" r="2.2"/><circle cx="681.8" cy="532.4" r="1.6"/><circle cx="679.5" cy="547.4" r="2.2"/><circle cx="678.2" cy="548.8" r="1.5"/><circle cx="680.1" cy="546.8" r="1.7"/><circle cx="679.8" cy="579.2" r="2.2"/><circle cx="680.6" cy="581.4" r="1.7"/><circle cx="678.9" cy="580.4" r="1.5"/><circle cx="671.1" cy="594.1" r="3.8"/><circle cx="666.9" cy="593.6" r="2.4"/><circle cx="675.8" cy="606.9" r="2.7"/><circle cx="678.0" cy="606.5" r="2.3"/><circle cx="675.7" cy="605.6" r="2.0"/><circle cx="671.8" cy="628.4" r="3.4"/><circle cx="671.8" cy="631.2" r="2.2"/><circle cx="678.1" cy="637.4" r="2.4"/><circle cx="675.9" cy="636.4" r="1.4"/><circle cx="676.9" cy="635.1" r="1.4"/><circle cx="682.6" cy="656.3" r="4.2"/><circle cx="679.4" cy="659.1" r="3.7"/><circle cx="684.7" cy="660.7" r="2.5"/><circle cx="678.5" cy="665.4" r="2.7"/><circle cx="680.4" cy="666.0" r="2.4"/><circle cx="677.6" cy="665.7" r="2.1"/><circle cx="697.6" cy="460.3" r="3.3"/><circle cx="694.8" cy="457.2" r="2.0"/><circle cx="693.7" cy="502.2" r="4.2"/><circle cx="694.6" cy="505.0" r="3.3"/><circle cx="688.0" cy="508.1" r="2.1"/><circle cx="686.0" cy="506.8" r="1.7"/><circle cx="688.0" cy="506.5" r="1.3"/><circle cx="692.3" cy="541.6" r="2.6"/><circle cx="694.2" cy="543.4" r="1.6"/><circle cx="693.6" cy="539.5" r="2.0"/><circle cx="694.4" cy="557.0" r="4.1"/><circle cx="692.5" cy="556.2" r="2.9"/><circle cx="694.1" cy="564.0" r="4.4"/><circle cx="692.0" cy="561.5" r="3.4"/><circle cx="696.5" cy="563.7" r="2.3"/><circle cx="688.9" cy="574.2" r="4.0"/><circle cx="687.1" cy="570.8" r="3.1"/><circle cx="692.8" cy="570.0" r="3.0"/><circle cx="686.6" cy="587.7" r="2.8"/><circle cx="684.3" cy="588.9" r="1.5"/><circle cx="687.0" cy="589.9" r="2.1"/><circle cx="698.7" cy="603.2" r="4.5"/><circle cx="699.2" cy="599.8" r="4.1"/><circle cx="696.1" cy="607.2" r="3.7"/><circle cx="693.4" cy="617.3" r="2.8"/><circle cx="694.6" cy="614.2" r="2.5"/><circle cx="698.5" cy="637.0" r="5.0"/><circle cx="698.2" cy="635.0" r="4.4"/><circle cx="701.0" cy="642.5" r="3.5"/><circle cx="687.4" cy="655.3" r="2.0"/><circle cx="689.2" cy="653.7" r="1.4"/><circle cx="687.6" cy="656.1" r="1.1"/><circle cx="688.0" cy="677.6" r="3.8"/><circle cx="684.2" cy="680.4" r="2.9"/></g>
<path d="M478.2 472.6L476.8 472.9M477.9 469.5L478.4 470.8M477.1 467.4L475.4 468.1M480.4 464.8L479.8 466.4M477.6 471.7L476.4 472.0M481.1 471.1L479.0 471.8M474.3 493.0L475.3 493.7M478.0 493.0L477.2 494.4M477.1 495.6L474.9 495.7M473.1 512.5L474.6 513.4M475.6 518.1L474.7 519.4M475.3 512.0L477.1 513.4M484.4 519.1L484.6 521.2M486.4 520.9L484.3 521.5M482.4 529.7L482.2 530.8M488.2 529.3L486.4 530.7M487.2 524.4L486.7 526.0M483.9 521.6L484.4 523.1M487.3 525.1L487.1 525.9M478.4 535.9L477.7 536.2M482.6 536.3L483.3 537.2M481.1 543.3L479.6 544.1M476.6 536.2L477.8 537.9M484.0 534.7L485.2 536.7M477.0 535.4L478.5 537.0M477.9 541.6L479.6 542.3M477.9 571.4L478.8 571.4M479.1 575.5L479.7 577.3M476.0 573.5L478.1 574.2M475.9 599.6L473.6 599.7M476.7 595.7L478.0 596.0M478.2 598.1L480.4 598.1M486.7 639.7L484.4 640.4M483.6 645.1L482.9 646.5M484.2 645.1L484.0 646.5M484.4 674.2L483.6 674.6M487.4 673.3L486.4 675.3M492.1 672.6L491.6 673.6M478.8 674.1L477.7 675.4M473.9 678.5L474.1 680.4M477.5 670.7L476.6 672.5M479.3 677.8L479.2 678.8M495.4 477.6L495.8 478.6M492.5 478.7L494.3 479.3M496.9 474.2L496.5 476.1M494.8 474.8L493.7 475.1M496.7 475.5L495.0 476.9M497.5 476.7L497.4 477.6M496.8 475.6L495.8 476.5M487.4 509.7L486.5 510.9M490.2 509.3L491.7 509.4M483.4 518.7L484.2 519.6M484.9 514.8L483.2 515.8M492.0 515.1L493.3 515.3M494.2 522.8L496.5 523.0M495.4 520.9L493.7 522.4M491.5 523.6L491.1 525.8M493.3 520.9L494.5 521.9M495.8 523.4L494.3 524.3M498.1 538.1L500.1 538.9M491.0 538.3L489.7 538.5M495.6 539.1L495.0 540.3M494.8 542.2L494.1 543.1M493.5 541.9L491.5 542.8M492.2 544.8L493.5 546.0M491.2 538.8L489.6 539.5M496.2 546.6L496.5 548.9M488.9 544.0L488.2 545.7M496.9 570.8L497.7 572.6M497.8 573.1L498.8 575.0M494.5 574.7L494.2 575.9M494.9 572.2L494.0 573.3M498.1 575.0L497.2 575.6M499.1 573.5L497.8 574.5M502.5 581.9L501.7 582.8M502.8 582.0L501.5 582.4M502.5 581.5L501.9 583.5M499.7 579.2L499.9 580.2M500.8 578.6L500.7 580.2M502.9 581.8L503.6 583.8M494.2 592.0L494.1 594.3M494.7 593.6L495.3 595.3M496.3 594.4L497.5 594.7M487.8 596.3L489.0 597.3M495.6 586.2L495.6 588.0M488.5 592.1L489.7 593.5M493.5 589.0L491.9 590.3M499.7 611.9L500.2 613.4M497.3 613.1L497.8 615.2M494.4 608.3L495.9 608.5M492.2 620.6L491.8 622.2M483.9 619.0L485.5 619.3M485.9 619.3L487.0 619.9M489.9 618.9L492.1 619.8M485.3 617.3L484.2 618.6M489.2 621.8L490.8 622.3M486.6 618.6L486.8 620.4M493.2 635.5L491.9 636.6M488.0 636.7L487.3 637.9M495.9 638.8L494.8 639.2M499.6 650.4L498.7 650.8M497.4 653.7L496.7 654.3M498.7 655.5L497.4 655.6M487.1 671.1L487.2 673.3M488.9 666.7L490.0 666.8M487.7 666.1L489.1 666.4M484.2 667.3L483.7 668.4M493.7 680.1L493.6 682.0M493.7 676.0L495.5 677.2M490.2 677.2L492.1 677.5M495.8 675.6L494.9 676.0M501.0 468.5L502.8 468.9M508.5 462.4L508.3 463.7M503.8 464.6L503.5 465.4M504.1 462.9L502.1 463.5M501.5 466.2L500.4 467.2M512.5 485.5L511.2 485.6M506.8 480.4L506.2 481.2M502.4 481.4L500.5 481.8M500.7 497.6L498.8 498.3M506.3 498.4L505.8 500.5M503.5 495.3L502.1 496.0M499.4 492.3L498.6 492.5M506.7 493.3L505.6 494.2M503.1 511.9L505.0 512.7M505.6 510.6L506.2 511.3M502.4 511.9L502.6 512.7M502.1 509.9L500.1 511.1M505.7 511.1L506.6 513.2M496.7 523.3L497.4 524.0M496.9 519.5L497.1 520.5M505.2 516.8L502.9 517.3M504.7 588.6L506.8 589.7M505.0 586.8L504.3 588.3M512.0 587.1L510.7 589.0M504.7 589.4L503.3 590.4M510.8 601.5L511.6 602.7M503.1 596.6L503.9 597.1M506.6 603.1L508.1 604.1M503.6 597.4L502.8 598.3M507.2 603.5L507.0 605.6M509.3 609.0L507.1 609.4M506.6 613.8L507.1 615.0M508.3 617.5L507.5 619.6M501.7 618.7L502.9 619.6M500.6 614.9L501.6 615.9M505.8 613.5L506.2 614.5M506.6 609.6L504.6 610.0M508.1 620.7L509.1 620.9M504.7 616.6L505.9 617.0M508.3 615.3L509.0 616.2M504.2 614.6L504.8 616.1M506.0 617.5L505.7 618.3M504.8 616.5L506.4 617.3M510.2 660.1L510.4 661.5M514.2 665.2L513.8 665.9M515.1 664.7L514.0 664.8M515.7 661.2L515.6 662.3M513.5 467.5L513.2 468.4M520.2 464.5L519.4 464.7M514.3 466.7L513.8 467.5M513.5 471.8L512.6 472.1M511.6 466.3L512.4 468.0M520.0 469.6L520.6 470.6M512.6 464.0L510.6 464.9M527.2 489.6L527.8 491.5M532.1 488.7L531.6 491.0M530.4 491.2L531.4 491.5M528.9 521.2L530.4 521.9M525.7 520.6L527.9 521.4M531.8 522.3L531.2 524.2M522.9 522.3L525.1 522.6M520.8 537.2L522.0 538.5M523.0 532.1L522.3 533.4M513.1 535.6L515.2 536.0M520.4 536.8L518.4 537.7M517.4 531.4L517.1 532.5M520.9 532.2L519.1 533.4M513.9 542.1L514.9 542.4M518.8 549.7L519.6 551.1M523.2 549.8L522.6 550.5M524.7 552.8L526.0 553.4M523.8 550.6L521.7 551.5M518.1 550.0L519.0 550.4M520.0 551.1L521.4 551.8M516.0 573.3L515.2 573.7M517.6 570.9L517.1 572.3M516.0 567.7L517.8 568.4M518.5 570.3L519.7 572.3M519.1 595.6L517.6 595.8M518.9 602.3L517.5 602.7M521.5 602.6L521.4 604.2M523.3 596.1L522.6 597.0M517.0 601.4L519.2 602.0M517.6 611.8L516.3 611.9M515.7 610.3L514.4 611.9M516.6 616.0L516.0 617.8M514.5 618.0L515.4 618.4M521.2 618.9L520.0 620.7M520.8 626.1L522.1 627.1M522.8 628.0L524.0 628.1M527.2 629.3L527.2 630.1M520.6 629.6L520.1 631.2M527.0 626.2L525.9 627.5M521.6 619.4L520.6 620.7M520.7 647.3L520.9 649.6M515.5 647.9L517.3 648.5M520.6 643.9L520.7 645.1M520.3 663.5L522.6 664.1M524.3 663.7L525.7 664.5M520.8 664.7L521.2 665.5M528.1 669.6L529.5 671.2M521.1 668.0L522.1 668.0M516.1 681.5L514.0 682.1M515.8 681.1L516.6 682.1M536.9 492.8L537.8 493.1M538.9 496.8L538.0 498.8M535.0 497.5L535.3 498.6M534.2 497.1L534.1 498.2M538.9 492.7L537.7 494.4M541.3 493.7L540.4 495.5M534.7 499.8L533.5 500.3M544.9 517.2L544.5 517.9M541.8 514.7L541.2 515.3M543.1 515.3L544.5 515.7M540.8 516.5L541.6 517.4M544.6 515.0L543.9 515.7M541.2 513.6L542.4 514.7M540.2 522.2L540.9 522.8M539.0 519.2L538.8 520.2M536.9 520.2L539.0 520.4M538.1 551.8L536.8 552.3M544.8 556.3L544.6 558.3M543.7 554.2L545.0 554.8M536.3 557.7L535.4 559.4M539.5 555.6L541.1 555.9M539.7 579.7L538.0 580.2M539.9 583.7L540.7 584.7M537.2 579.0L536.6 579.7M528.2 594.2L527.9 595.5M533.5 597.7L531.9 598.5M531.0 595.0L531.0 596.1M531.7 596.6L530.0 597.0M532.2 594.5L530.2 594.6M528.5 597.8L527.8 598.9M551.1 469.3L551.8 469.7M550.6 466.9L552.8 467.0M551.7 470.1L552.4 471.0M552.4 465.7L553.8 467.5M552.8 470.5L552.0 471.0M550.8 507.1L551.5 507.9M550.1 508.3L551.2 508.4M541.2 507.2L542.5 507.8M542.8 529.0L543.7 529.2M549.0 533.9L548.9 534.7M542.6 535.5L543.6 536.1M548.1 529.1L546.3 530.0M550.9 536.0L549.9 537.8M545.2 528.2L546.0 528.6M549.8 534.6L547.8 535.6M546.5 552.3L545.5 552.9M550.5 552.3L550.9 554.0M546.8 554.2L547.0 555.7M548.4 553.1L547.3 553.2M549.9 556.6L548.2 557.4M549.4 555.0L550.3 556.3M547.6 555.3L549.3 556.7M558.0 579.3L556.7 580.3M559.7 581.1L557.3 581.1M554.7 580.8L555.5 582.2M558.9 576.8L560.0 578.6M560.0 577.3L559.0 577.8M549.4 594.8L547.4 595.2M541.7 592.9L540.6 593.3M540.4 589.0L539.0 591.0M548.3 598.0L549.8 599.7M541.5 590.9L542.6 592.8M541.0 597.4L542.5 598.8M550.3 592.8L549.1 594.5M552.1 620.4L552.9 622.2M551.1 621.8L550.5 622.7M552.9 615.9L552.4 616.9M556.8 616.0L556.3 617.4M552.1 621.7L552.6 623.6M543.3 628.8L541.7 629.0M551.9 632.6L549.8 632.7M548.4 634.3L547.4 636.5M543.6 632.4L544.6 634.2M551.7 630.1L552.3 632.0M547.5 632.9L547.6 634.1M552.8 630.1L553.6 630.1M556.7 639.8L554.9 640.0M555.3 648.0L553.6 649.6M556.6 639.1L554.9 640.2M550.7 639.9L552.3 640.5M555.7 649.2L556.0 650.2M563.4 647.5L561.7 649.1M547.2 658.7L547.8 659.4M546.2 660.0L546.0 661.8M548.7 661.3L547.0 662.0M549.7 658.8L549.3 659.7M545.5 662.4L547.6 662.5M550.5 659.9L550.7 661.0M543.6 682.4L541.8 682.9M547.9 677.8L548.9 679.6M549.2 679.1L548.6 681.2M546.6 680.0L545.2 681.8M544.9 682.3L546.2 683.4M546.8 682.2L546.2 683.4M563.5 486.1L565.4 487.2M567.2 484.9L566.2 485.1M565.0 487.8L566.1 488.3M567.1 481.7L566.5 482.2M561.0 484.2L562.2 485.8M560.8 497.4L559.2 498.8M560.5 493.6L561.8 495.5M556.8 496.5L554.9 497.6M558.4 493.2L559.4 493.2M561.0 497.8L560.0 498.7M565.8 515.8L566.5 517.5M569.2 513.9L571.2 514.4M561.5 511.3L562.4 512.7M567.1 518.8L569.2 519.6M564.8 522.1L563.9 523.4M561.5 519.8L562.4 521.1M557.0 521.5L558.7 522.9M567.1 524.9L565.7 525.4M566.1 542.0L564.3 542.0M567.4 537.2L568.4 537.4M574.3 543.1L574.0 543.9M569.4 539.0L568.2 539.9M566.3 548.1L567.2 548.2M563.3 555.4L561.4 556.0M561.3 545.7L562.5 546.6M567.4 550.8L566.6 551.1M567.9 552.1L565.6 552.5M567.0 555.1L566.3 556.0M569.2 584.9L570.8 585.9M569.4 582.6L569.6 584.3M565.0 583.1L563.2 584.4M565.9 584.4L566.4 586.4M573.3 598.9L572.5 599.7M574.3 598.5L572.5 598.8M574.5 597.9L575.7 598.0M560.4 609.2L562.2 610.5M565.6 611.1L566.1 612.3M569.9 602.6L568.3 603.0M559.8 600.4L561.7 600.9M568.6 602.3L567.8 603.3M570.0 603.9L570.2 605.1M561.4 611.3L560.4 611.6M559.1 678.0L557.7 678.2M557.5 674.8L558.0 676.8M555.7 675.1L554.9 677.1M578.3 495.3L580.5 496.1M577.7 495.1L578.4 495.6M579.5 495.0L580.0 496.3M580.8 505.5L581.8 507.3M583.2 506.5L584.4 506.5M587.5 503.2L589.3 503.5M584.2 504.2L585.8 505.0M581.4 505.0L583.1 506.3M586.7 508.9L587.0 510.3M575.7 526.2L576.6 527.0M574.4 526.5L572.5 527.8M573.5 524.0L572.7 525.4M573.3 528.4L572.4 528.8M573.5 589.1L573.4 590.3M576.6 591.9L575.6 592.5M575.2 591.8L574.1 593.3M574.2 595.6L576.1 595.6M573.5 589.7L575.7 590.6M587.1 597.2L586.3 597.7M583.0 605.5L582.0 607.1M588.5 601.2L590.4 601.5M582.4 609.3L582.2 610.5M586.5 601.2L585.4 601.6M571.6 616.9L573.8 617.7M577.5 616.4L577.7 617.4M575.5 618.5L576.4 619.4M584.3 636.5L584.8 637.6M582.6 634.8L584.4 635.3M584.5 633.8L583.1 634.7M584.7 637.1L584.6 639.4M587.0 638.4L585.7 639.4M588.1 666.3L586.7 667.7M582.9 667.8L583.0 669.3M585.4 673.7L584.0 675.3M584.6 673.9L585.4 674.7M587.3 671.9L589.3 672.1M573.0 683.3L572.0 684.5M578.5 677.7L577.5 678.1M577.8 680.4L576.9 682.5M576.6 679.0L577.5 679.8M596.4 464.4L594.6 464.9M586.3 501.5L587.1 502.5M592.7 504.8L590.3 505.1M584.2 497.2L585.2 497.6M590.1 502.9L590.2 505.0M588.8 495.3L588.8 497.6M585.6 520.6L585.0 522.4M588.2 521.4L587.4 521.8M582.5 512.4L580.5 513.6M584.4 521.6L582.3 522.3M589.6 521.3L590.7 522.5M585.1 517.0L585.6 517.8M589.5 540.2L589.4 541.5M589.7 539.0L588.1 540.3M591.1 539.1L589.7 540.9M586.4 538.1L585.9 539.9M590.7 542.3L591.1 543.0M590.3 541.0L591.0 543.2M588.9 541.4L588.7 542.2M591.1 542.8L592.4 544.2M588.9 546.6L590.8 547.9M592.4 550.0L594.1 550.7M586.7 544.7L587.5 545.3M597.2 605.8L595.9 606.1M590.0 610.3L591.8 610.5M594.7 603.8L596.0 604.3M596.9 641.5L598.4 642.7M593.5 631.0L591.5 631.9M601.9 641.1L601.4 642.0M596.7 647.2L598.0 648.3M593.8 651.3L592.7 651.5M592.3 651.8L593.6 652.3M597.0 652.3L596.9 653.5M590.5 659.7L592.1 660.1M592.7 659.9L591.4 661.4M591.9 665.0L592.4 666.5M607.6 524.1L606.9 525.5M609.0 522.4L608.9 523.8M612.2 521.2L611.1 521.2M599.8 519.8L601.2 521.2M608.5 519.9L608.8 520.8M606.4 523.4L607.1 525.6M608.4 551.1L607.1 552.8M614.5 542.3L613.7 542.7M606.2 545.9L605.8 547.8M608.9 544.0L607.6 545.9M615.6 541.3L616.5 541.8M602.8 564.9L603.7 566.2M600.0 563.4L599.6 564.5M602.5 565.1L604.8 565.2M606.5 560.2L605.7 560.9M598.5 568.2L598.9 569.5M604.8 576.4L604.1 576.8M604.9 573.5L606.1 574.4M596.9 577.0L596.2 577.5M602.0 573.4L601.5 574.7M605.0 576.8L606.5 577.6M601.8 571.8L600.3 572.4M603.8 590.3L604.4 591.3M598.5 587.6L599.9 588.4M597.3 589.9L596.4 590.4M607.0 611.9L605.3 613.1M597.7 610.9L598.4 611.3M600.9 613.0L601.6 613.9M596.7 615.5L598.2 616.6M602.3 606.4L602.2 607.3M604.3 610.2L603.0 611.3M602.3 611.3L603.4 611.7M616.6 642.8L618.3 644.0M615.2 642.1L614.2 642.5M609.7 638.8L609.4 639.6M614.4 640.8L615.9 642.5M611.2 642.8L609.4 643.0M611.2 646.6L610.4 647.2M612.9 644.8L611.5 645.5M615.1 641.7L614.2 642.8M613.1 640.4L611.2 640.4M601.8 673.3L602.8 673.8M602.4 670.9L603.9 671.8M606.4 667.4L604.7 668.1M606.9 671.6L606.5 673.9M608.1 671.5L608.2 672.6M606.5 673.3L607.3 675.0M608.6 675.3L608.5 676.2M608.2 672.4L609.1 672.4M619.1 460.9L619.7 463.0M624.9 463.1L625.3 463.9M625.9 469.7L623.8 469.8M628.9 459.8L629.5 461.0M627.7 470.8L627.8 472.6M629.9 465.4L629.7 467.0M617.6 489.1L619.3 489.7M620.9 489.3L619.3 490.6M617.5 488.9L618.7 489.9M616.7 491.4L618.8 492.4M619.7 487.3L620.5 487.5M620.6 487.8L619.0 488.7M617.9 490.2L617.8 491.1M625.7 530.8L625.6 531.9M628.7 523.9L630.2 525.2M631.1 527.7L632.3 528.4M628.0 530.1L627.8 531.7M631.7 536.1L629.8 536.6M625.6 532.5L624.3 532.9M631.5 535.1L632.4 535.9M620.0 599.1L621.5 600.9M622.9 595.5L624.2 596.2M624.8 600.4L623.2 601.5M631.2 609.7L630.1 610.3M627.9 607.4L629.3 607.8M621.0 607.3L621.9 607.7M625.9 609.6L625.8 610.5M614.7 623.9L614.3 625.2M619.3 619.1L619.7 621.3M620.4 623.4L619.0 623.9M618.6 619.9L620.7 621.0M619.3 641.0L620.0 641.6M622.4 643.0L624.5 643.7M618.4 643.7L618.2 645.2M634.5 467.7L633.1 469.3M632.3 465.5L632.8 466.5M634.5 469.9L633.2 471.1M631.6 468.2L630.6 469.1M630.5 464.1L631.5 466.2M635.6 511.3L636.8 511.6M636.6 512.2L635.8 513.0M632.4 502.8L632.7 503.7M627.2 503.0L627.7 504.0M628.2 512.4L629.3 513.4M635.0 504.7L635.4 505.9M626.6 505.2L627.6 506.7M636.5 532.4L637.9 533.2M636.2 536.6L637.9 537.5M639.6 536.7L640.4 537.8M636.9 529.4L636.7 531.5M642.7 587.5L641.6 587.6M636.6 594.3L638.5 594.3M639.8 588.3L637.8 589.2M643.7 587.2L644.9 587.3M647.3 590.5L648.6 592.1M643.3 590.4L644.8 590.6M640.4 586.7L641.6 588.5M640.0 612.2L638.4 612.7M635.3 605.6L636.5 606.7M630.4 609.9L630.8 611.1M632.2 602.4L631.1 603.3M638.0 605.3L639.7 606.1M640.6 609.1L640.5 609.9M632.6 612.5L632.4 613.5M633.4 618.9L631.9 619.8M632.7 618.5L634.5 619.3M632.6 621.6L633.0 623.1M632.5 618.6L634.5 618.6M628.1 629.7L627.5 630.7M629.2 637.7L630.7 638.6M635.1 633.1L635.4 635.5M630.4 629.5L630.7 630.8M627.9 634.2L626.6 635.0M627.5 638.0L627.8 638.8M637.3 663.6L638.3 664.5M641.0 666.2L641.2 667.5M644.2 666.2L644.1 667.9M645.5 663.6L645.1 664.4M641.5 656.8L640.8 657.5M636.4 658.0L636.6 659.5M641.2 666.3L641.0 667.1M632.7 680.2L633.8 681.4M637.6 684.7L636.3 685.0M636.3 679.4L634.5 679.8M633.4 681.5L632.5 682.9M647.7 469.0L646.2 470.3M651.4 464.0L649.9 464.2M651.4 465.1L652.4 467.1M649.5 467.7L649.4 468.8M644.9 466.9L646.4 467.9M651.0 466.8L649.4 467.6M646.9 463.8L647.8 464.5M650.1 489.7L650.8 490.2M653.4 489.6L654.4 490.7M651.5 491.4L650.2 492.1M652.1 488.5L651.3 489.2M650.6 487.5L649.2 488.7M646.3 510.5L645.5 511.7M642.8 516.4L642.8 518.6M647.8 509.9L647.5 511.9M644.7 510.0L643.4 511.1M645.7 516.6L646.5 516.9M649.1 512.1L651.5 512.1M650.1 510.6L649.6 511.3M655.4 523.0L655.3 525.3M654.6 523.5L656.0 523.6M658.6 528.7L656.5 528.9M657.0 529.0L656.2 529.8M655.3 527.7L655.7 528.9M658.0 523.7L658.5 524.7M656.9 524.6L655.6 525.2M639.9 540.5L641.4 541.8M641.5 536.9L639.5 537.1M645.9 533.1L646.8 534.8M648.1 537.9L649.3 538.4M644.2 535.0L644.0 536.2M647.7 533.3L646.3 535.3M644.0 555.8L643.2 557.4M645.5 560.2L646.2 561.3M643.9 562.9L643.4 563.6M650.3 557.3L652.0 557.5M643.9 563.4L644.8 564.8M652.4 560.4L652.1 561.4M652.9 578.7L654.6 580.0M648.5 582.4L647.8 582.8M654.1 579.8L652.9 581.0M652.6 583.4L654.2 584.0M654.3 584.7L653.7 585.6M652.5 593.2L653.2 594.7M647.8 592.0L648.9 592.6M652.8 595.5L652.4 596.6M652.3 593.9L653.3 595.7M652.1 592.9L650.5 593.4M647.6 595.5L649.8 596.5M648.9 590.1L649.3 592.1M661.6 603.8L660.7 604.5M660.4 602.8L660.1 603.7M650.3 607.7L652.1 608.4M658.5 612.5L656.5 612.8M657.4 623.9L656.7 624.4M657.2 616.5L658.1 617.1M657.7 622.1L657.9 623.1M648.2 635.8L648.3 637.7M648.8 636.2L650.2 637.4M650.3 632.1L648.7 633.7M647.8 635.2L649.3 636.0M654.9 654.7L655.1 656.0M650.5 659.3L650.2 660.1M658.6 658.5L657.7 659.3M643.1 668.1L644.7 668.1M651.2 666.8L651.9 667.2M641.6 665.2L640.8 665.4M650.2 670.5L651.5 672.1M650.7 667.0L650.3 669.3M652.4 659.2L652.1 660.6M656.0 677.9L654.6 678.0M651.7 677.1L651.7 678.4M650.1 676.5L652.1 677.6M651.5 678.7L650.8 679.7M654.7 679.5L656.6 680.6M666.6 468.7L666.0 469.3M670.9 468.7L668.6 468.8M667.9 467.2L667.1 469.0M665.5 480.5L664.4 482.4M665.8 480.2L667.2 481.7M668.6 476.8L667.8 478.0M668.3 480.9L667.9 482.5M664.6 479.8L665.5 480.5M667.6 478.4L668.1 479.8M663.3 490.1L663.2 491.3M659.0 482.3L659.1 484.1M662.2 483.7L661.4 484.0M658.0 487.3L657.9 488.9M656.5 489.2L654.9 489.2M666.2 494.4L665.3 495.3M659.2 493.0L658.9 494.2M664.9 511.9L665.8 513.1M666.3 513.3L667.7 513.6M668.8 512.0L667.7 513.1M666.9 517.3L667.8 518.8M670.4 513.8L670.9 515.1M665.2 564.8L665.4 566.6M657.7 568.6L656.7 569.0M655.5 567.6L655.2 568.5M666.3 560.6L666.3 561.9M658.1 567.2L657.0 569.0M663.5 561.8L663.7 563.5M663.2 577.3L661.9 577.5M662.3 569.1L661.9 571.1M665.7 572.5L666.2 574.8M661.9 575.9L661.5 577.1M665.9 576.5L664.6 577.3M663.2 574.2L663.3 575.1M659.4 605.8L659.2 606.7M659.0 602.0L660.9 602.0M660.6 601.6L661.6 602.8M660.6 602.9L659.2 604.6M662.7 601.6L663.8 602.5M657.9 627.2L656.6 629.1M657.7 627.8L659.4 628.2M661.0 626.2L659.5 626.5M657.0 627.3L656.9 629.3M657.6 623.6L657.7 625.1M654.5 627.2L656.2 628.4M664.4 630.9L665.4 633.0M659.2 636.0L658.0 636.1M668.5 632.6L666.7 633.6M666.7 636.1L665.6 637.0M661.8 654.8L661.1 655.9M666.3 659.0L668.0 660.3M663.8 654.6L662.5 655.9M668.2 653.7L667.2 654.3M665.0 659.9L662.6 660.2M662.7 660.0L664.3 661.2M662.5 658.8L661.8 660.5M683.3 470.8L682.8 471.6M680.8 466.3L680.2 467.0M686.8 468.9L687.8 469.8M679.6 466.0L680.9 467.5M682.0 473.0L681.4 475.0M672.4 477.7L671.2 477.8M680.0 479.3L680.9 479.7M670.5 472.3L672.5 473.5M680.7 479.6L681.8 481.4M678.5 474.6L680.6 475.1M680.0 476.9L678.3 477.7M687.2 501.5L685.7 502.5M680.9 497.5L679.4 498.7M681.2 497.5L680.5 498.0M680.3 512.1L678.6 512.4M682.7 511.4L683.1 513.8M677.0 518.0L675.9 519.1M675.3 511.3L675.5 512.6M680.1 514.9L678.9 515.9M683.8 533.9L683.0 534.6M681.0 529.0L681.9 530.0M682.2 530.7L683.3 531.8M686.1 532.3L686.7 534.2M681.4 529.5L682.1 530.0M682.6 534.5L684.2 534.6M684.0 532.9L684.9 533.9M681.3 545.0L681.2 545.8M680.1 544.6L679.7 546.3M681.1 548.9L679.5 550.0M679.0 579.5L678.3 581.1M680.3 577.8L680.0 579.3M682.6 579.2L680.9 580.2M672.8 595.7L672.8 596.7M669.3 591.6L668.1 592.4M665.5 594.0L666.7 594.2M670.3 589.6L672.3 590.7M671.5 593.9L672.1 595.1M675.7 604.4L673.8 605.8M676.3 603.7L675.9 604.7M673.9 607.0L673.4 607.7M670.9 627.4L671.1 629.3M675.3 631.7L675.5 632.8M673.3 624.6L675.5 624.6M672.7 627.9L673.6 630.1M670.9 623.7L670.9 624.9M675.0 635.7L676.0 636.0M679.7 637.2L681.3 638.3M678.0 633.4L676.9 635.3M677.7 636.3L677.3 637.2M676.3 638.7L677.6 640.3M681.4 634.3L680.0 634.7M677.4 638.9L677.1 639.8M686.9 652.7L686.2 653.4M688.2 657.1L687.0 658.4M685.8 651.7L683.6 652.5M686.9 661.3L685.6 661.7M685.4 651.6L684.7 652.1M686.9 660.2L686.0 660.8M681.8 662.7L681.8 663.5M675.7 667.5L677.7 667.9M680.3 667.6L679.5 668.4M681.7 663.0L680.7 663.1M693.1 461.8L694.9 462.5M699.0 462.8L697.4 463.3M694.6 460.1L696.4 461.4M689.0 497.0L689.7 497.6M689.1 501.6L691.0 501.8M697.0 504.7L696.0 505.0M691.5 498.1L690.7 498.5M695.7 503.3L695.3 505.2M697.9 498.1L696.0 499.0M687.7 508.0L687.3 508.9M686.5 509.1L688.5 509.7M689.4 510.3L690.3 510.6M687.5 505.3L687.7 506.9M688.9 506.4L689.4 508.1M687.8 509.0L689.0 509.4M693.6 540.7L692.2 541.1M691.3 543.2L691.1 544.0M695.9 539.1L694.1 539.5M690.6 538.9L690.9 540.3M690.8 543.5L689.5 544.0M693.7 539.2L693.6 540.5M691.9 541.6L690.0 542.8M697.4 558.4L697.9 560.0M693.5 552.1L694.8 553.8M689.9 555.7L689.2 556.5M698.3 552.6L696.5 553.5M692.9 561.4L691.9 563.1M696.2 557.9L696.3 559.2M696.7 558.7L694.9 559.3M692.3 564.4L690.6 564.8M698.3 559.4L697.1 560.2M690.8 562.6L690.7 564.0M687.0 568.4L688.2 570.2M684.4 578.6L684.9 579.6M685.8 575.4L686.5 577.3M690.1 584.6L689.3 586.6M682.0 590.0L684.4 590.3M689.2 586.8L688.2 587.1M686.9 585.0L685.9 585.5M687.9 586.0L685.8 586.1M683.6 586.7L683.2 587.5M689.6 590.3L688.8 590.7M693.1 599.8L695.0 600.3M698.7 598.0L699.2 598.7M697.2 597.9L694.9 598.4M694.3 616.1L693.4 617.6M694.6 614.5L693.1 614.7M693.4 615.0L693.1 616.1M693.5 616.4L691.5 616.7M690.6 614.7L689.2 616.3M689.8 614.6L691.1 615.5M694.3 619.7L696.1 619.8M691.6 633.3L692.6 633.8M692.5 640.1L693.1 641.5M686.4 653.7L687.4 654.1M688.5 652.6L690.5 652.8M687.1 656.9L685.9 658.2M687.3 652.8L688.6 654.2M685.9 655.2L686.5 655.9M685.4 652.4L685.6 653.6M683.6 676.4L683.8 678.4M689.7 677.3L688.6 679.2M684.8 673.7L685.8 675.0M692.9 678.5L692.3 679.8" stroke="#c4c4c4" stroke-width="1.2" stroke-linecap="round" fill="none" opacity="0.42" filter="url(#blur0)"/>
<text transform="translate(670.5,679.0) scale(1.02,1)" font-size="10.4" text-anchor="start" fill="#fff" font-weight="bold">50nm</text>
<rect x="676.50" y="681.20" width="18.20" height="3.80" fill="#fff"/>
<text transform="translate(591.6,704.5) scale(1.03,1)" font-size="12.4" text-anchor="middle" fill="#222">H7 trimer+6Y13 IgG</text>
<defs>
<linearGradient id="gelbg" x1="0" y1="0" x2="1" y2="0"><stop offset="0" stop-color="#c0c0c2"/><stop offset="0.12" stop-color="#c8c8ca"/><stop offset="0.5" stop-color="#ccccce"/><stop offset="1" stop-color="#cacacc"/></linearGradient>
<linearGradient id="gelv" x1="0" y1="0" x2="0" y2="1"><stop offset="0" stop-color="#000" stop-opacity="0.035"/><stop offset="0.45" stop-color="#000" stop-opacity="0"/><stop offset="0.45" stop-color="#fff" stop-opacity="0"/><stop offset="1" stop-color="#fff" stop-opacity="0.22"/></linearGradient>
<linearGradient id="scfv" x1="0" y1="0" x2="0" y2="1"><stop offset="0" stop-color="#85858a"/><stop offset="0.55" stop-color="#5c5c62"/><stop offset="1" stop-color="#4c4c52"/></linearGradient>
<filter id="gblur" x="-20%" y="-100%" width="140%" height="300%"><feGaussianBlur stdDeviation="1.0 0.8"/></filter>
<filter id="gblurS" x="-20%" y="-100%" width="140%" height="300%"><feGaussianBlur stdDeviation="0.6 0.45"/></filter>
<filter id="gblur2" x="-20%" y="-100%" width="140%" height="300%"><feGaussianBlur stdDeviation="1.5 1.3"/></filter>
<filter id="gblur3" x="-30%" y="-30%" width="160%" height="160%"><feGaussianBlur stdDeviation="3 5"/></filter>
<filter id="gelgrain" x="0" y="0" width="100%" height="100%" color-interpolation-filters="sRGB">
<feTurbulence type="fractalNoise" baseFrequency="0.55" numOctaves="2" seed="5" result="n"/>
<feColorMatrix in="n" type="matrix" values="0 0 0 0 0.5  0 0 0 0 0.5  0 0 0 0 0.5  0.5 0 0 0 -0.19"/>
<feComposite in2="SourceGraphic" operator="in"/></filter>
</defs>
<rect x="444.20" y="16.20" width="182.10" height="186.30" fill="url(#gelbg)"/>
<rect x="444.20" y="16.20" width="182.10" height="186.30" fill="url(#gelv)"/>
<g filter="url(#gblurS)">
<rect x="445.60" y="27.00" width="15.60" height="1.30" fill="#6e6e74" opacity="0.95"/>
<rect x="445.60" y="30.10" width="15.80" height="1.50" fill="#76767c" opacity="0.9"/>
</g>
<g filter="url(#gblur)">
<rect x="446.00" y="35.70" width="16.00" height="4.00" fill="#77777d" rx="1.6" opacity="0.9"/>
<rect x="445.80" y="43.00" width="16.40" height="5.20" fill="#55555b" rx="1.6" opacity="0.95"/>
<rect x="446.80" y="55.10" width="15.40" height="5.20" fill="#6c6c72" rx="1.6" opacity="0.9"/>
<rect x="448.60" y="68.60" width="11.50" height="2.20" fill="#9c9ca0" rx="1.6" opacity="0.8"/>
<rect x="449.80" y="83.40" width="11.60" height="3.80" fill="#909096" rx="1.6" opacity="0.85"/>
<rect x="450.50" y="98.80" width="11.00" height="2.80" fill="#8e8e94" rx="1.6" opacity="0.85"/>
<rect x="449.50" y="136.10" width="11.50" height="3.00" fill="#96969c" rx="1.6" opacity="0.85"/>
</g>
<ellipse cx="457.3" cy="176.8" rx="4.6" ry="4.2" fill="#a2a2a8" opacity="0.75" filter="url(#gblur2)"/>
<g filter="url(#gblur)">
<rect x="465.75" y="73.70" width="19.50" height="5.00" fill="#66666c" rx="1.8" opacity="0.95"/>
<rect x="489.50" y="74.50" width="20.00" height="3.80" fill="#808086" rx="1.8" opacity="0.9"/>
<rect x="513.00" y="74.10" width="17.00" height="2.60" fill="#a2a2a8" rx="1.8" opacity="0.85"/>
<path d="M467.2 93.9 Q475.4 96.3 483.6 93.9" fill="none" stroke="#58585e" stroke-width="5.4" stroke-linecap="round" opacity="0.95"/>
<path d="M467.4 92.4 Q475.4 94.4 483.4 92.4" fill="none" stroke="#8a8a90" stroke-width="1.6" stroke-linecap="round" opacity="0.6"/>
<path d="M490.4 93.9 Q498.6 96.3 506.8 93.9" fill="none" stroke="#58585e" stroke-width="5.4" stroke-linecap="round" opacity="0.95"/>
<path d="M490.6 92.4 Q498.6 94.4 506.6 92.4" fill="none" stroke="#8a8a90" stroke-width="1.6" stroke-linecap="round" opacity="0.6"/>
<path d="M512.6 93.9 Q520.8 96.3 529.0 93.9" fill="none" stroke="#58585e" stroke-width="5.4" stroke-linecap="round" opacity="0.95"/>
<path d="M512.8 92.4 Q520.8 94.4 528.8 92.4" fill="none" stroke="#8a8a90" stroke-width="1.6" stroke-linecap="round" opacity="0.6"/>
<path d="M534.8 93.9 Q543.0 96.3 551.2 93.9" fill="none" stroke="#58585e" stroke-width="5.4" stroke-linecap="round" opacity="0.95"/>
<path d="M535.0 92.4 Q543.0 94.4 551.0 92.4" fill="none" stroke="#8a8a90" stroke-width="1.6" stroke-linecap="round" opacity="0.6"/>
<path d="M557.7 93.9 Q565.9 96.3 574.1 93.9" fill="none" stroke="#58585e" stroke-width="5.4" stroke-linecap="round" opacity="0.95"/>
<path d="M557.9 92.4 Q565.9 94.4 573.9 92.4" fill="none" stroke="#8a8a90" stroke-width="1.6" stroke-linecap="round" opacity="0.6"/>
<path d="M581.0 93.9 Q589.2 96.3 597.4 93.9" fill="none" stroke="#58585e" stroke-width="5.4" stroke-linecap="round" opacity="0.95"/>
<path d="M581.2 92.4 Q589.2 94.4 597.2 92.4" fill="none" stroke="#8a8a90" stroke-width="1.6" stroke-linecap="round" opacity="0.6"/>
</g>
<rect x="465.00" y="92.80" width="135.00" height="4.40" fill="#8a8a90" opacity="0.35" filter="url(#gblur)"/>
<g filter="url(#gblur2)">
<rect x="466.10" y="107.70" width="18.60" height="3.80" fill="#7e7e84" rx="1.5" opacity="0.62"/>
<rect x="466.10" y="116.50" width="18.60" height="3.60" fill="#7e7e84" rx="1.5" opacity="0.50"/>
<rect x="466.10" y="125.30" width="18.60" height="3.40" fill="#7e7e84" rx="1.5" opacity="0.22"/>
<rect x="489.30" y="107.70" width="18.60" height="3.80" fill="#7e7e84" rx="1.5" opacity="0.48"/>
<rect x="489.30" y="116.50" width="18.60" height="3.60" fill="#7e7e84" rx="1.5" opacity="0.46"/>
<rect x="489.30" y="125.30" width="18.60" height="3.40" fill="#7e7e84" rx="1.5" opacity="0.22"/>
<rect x="511.50" y="107.70" width="18.60" height="3.80" fill="#7e7e84" rx="1.5" opacity="0.45"/>
<rect x="511.50" y="116.50" width="18.60" height="3.60" fill="#7e7e84" rx="1.5" opacity="0.58"/>
<rect x="511.50" y="125.30" width="18.60" height="3.40" fill="#7e7e84" rx="1.5" opacity="0.52"/>
<rect x="533.70" y="107.70" width="18.60" height="3.80" fill="#7e7e84" rx="1.5" opacity="0.30"/>
<rect x="533.70" y="116.50" width="18.60" height="3.60" fill="#7e7e84" rx="1.5" opacity="0.40"/>
<rect x="533.70" y="125.30" width="18.60" height="3.40" fill="#7e7e84" rx="1.5" opacity="0.36"/>
<rect x="556.60" y="107.70" width="18.60" height="3.80" fill="#7e7e84" rx="1.5" opacity="0.28"/>
<rect x="556.60" y="116.50" width="18.60" height="3.60" fill="#7e7e84" rx="1.5" opacity="0.36"/>
<rect x="556.60" y="125.30" width="18.60" height="3.40" fill="#7e7e84" rx="1.5" opacity="0.34"/>
<rect x="579.90" y="107.70" width="18.60" height="3.80" fill="#7e7e84" rx="1.5" opacity="0.36"/>
<rect x="579.90" y="116.50" width="18.60" height="3.60" fill="#7e7e84" rx="1.5" opacity="0.46"/>
<rect x="579.90" y="125.30" width="18.60" height="3.40" fill="#7e7e84" rx="1.5" opacity="0.40"/>
</g>
<g filter="url(#gblur3)">
<rect x="466.40" y="104.00" width="18.00" height="36.00" fill="#a4a4aa" opacity="0.30"/>
<rect x="489.60" y="104.00" width="18.00" height="36.00" fill="#a4a4aa" opacity="0.30"/>
<rect x="511.80" y="104.00" width="18.00" height="36.00" fill="#a4a4aa" opacity="0.30"/>
<rect x="534.00" y="104.00" width="18.00" height="36.00" fill="#a4a4aa" opacity="0.30"/>
<rect x="556.90" y="104.00" width="18.00" height="36.00" fill="#a4a4aa" opacity="0.30"/>
<rect x="580.20" y="104.00" width="18.00" height="36.00" fill="#a4a4aa" opacity="0.30"/>
</g>
<rect x="444.20" y="16.20" width="182.10" height="186.30" fill="#888" filter="url(#gelgrain)" opacity="0.5"/>
<text transform="translate(538.8,12.6) scale(1.03,1)" font-size="12.3" text-anchor="middle" fill="#222">HA + 6Y13 scFv</text>
<text transform="translate(475.7,59.7) scale(1.0,1)" font-size="9.9" text-anchor="middle" fill="#1c1c1c">7.40</text>
<text transform="translate(498.9,59.7) scale(1.0,1)" font-size="9.9" text-anchor="middle" fill="#1c1c1c">6.63</text>
<text transform="translate(521.1,59.7) scale(1.0,1)" font-size="9.9" text-anchor="middle" fill="#1c1c1c">5.90</text>
<text transform="translate(543.3,59.7) scale(1.0,1)" font-size="9.9" text-anchor="middle" fill="#1c1c1c">5.33</text>
<text transform="translate(566.2,59.7) scale(1.0,1)" font-size="9.9" text-anchor="middle" fill="#1c1c1c">5.07</text>
<text transform="translate(589.5,59.7) scale(1.0,1)" font-size="9.9" text-anchor="middle" fill="#1c1c1c">4.50</text>
<text transform="translate(628.0,77.6) scale(1.0,1)" font-size="12.3" text-anchor="start" fill="#111">HA1</text>
<text transform="translate(627.8,96.9) scale(1.0,1)" font-size="12.3" text-anchor="start" fill="#111">scFv</text>
<line x1="140.10" y1="34.50" x2="140.10" y2="172.30" stroke="#1a1a1a" stroke-width="1.8"/>
<line x1="139.20" y1="166.30" x2="345.65" y2="166.30" stroke="#1a1a1a" stroke-width="1.8"/>
<line x1="134.40" y1="155.30" x2="140.10" y2="155.30" stroke="#1a1a1a" stroke-width="1.5"/>
<text transform="translate(132.4,158.3) scale(1.03,1)" font-size="11.9" text-anchor="end" fill="#222">0</text>
<line x1="134.40" y1="133.45" x2="140.10" y2="133.45" stroke="#1a1a1a" stroke-width="1.5"/>
<text transform="translate(132.4,136.5) scale(1.03,1)" font-size="11.9" text-anchor="end" fill="#222">20</text>
<line x1="134.40" y1="111.60" x2="140.10" y2="111.60" stroke="#1a1a1a" stroke-width="1.5"/>
<text transform="translate(132.4,114.6) scale(1.03,1)" font-size="11.9" text-anchor="end" fill="#222">40</text>
<line x1="134.40" y1="89.75" x2="140.10" y2="89.75" stroke="#1a1a1a" stroke-width="1.5"/>
<text transform="translate(132.4,92.8) scale(1.03,1)" font-size="11.9" text-anchor="end" fill="#222">60</text>
<line x1="134.40" y1="67.90" x2="140.10" y2="67.90" stroke="#1a1a1a" stroke-width="1.5"/>
<text transform="translate(132.4,70.9) scale(1.03,1)" font-size="11.9" text-anchor="end" fill="#222">80</text>
<line x1="134.40" y1="46.05" x2="140.10" y2="46.05" stroke="#1a1a1a" stroke-width="1.5"/>
<text transform="translate(132.4,49.1) scale(1.03,1)" font-size="11.9" text-anchor="end" fill="#222">100</text>
<line x1="140.10" y1="166.30" x2="140.10" y2="172.30" stroke="#1a1a1a" stroke-width="1.5"/>
<text transform="translate(140.7,186.8) scale(1.03,1)" font-size="13.0" text-anchor="middle" fill="#222">-2</text>
<line x1="181.03" y1="166.30" x2="181.03" y2="172.30" stroke="#1a1a1a" stroke-width="1.5"/>
<text transform="translate(181.6,186.8) scale(1.03,1)" font-size="13.0" text-anchor="middle" fill="#222">-1</text>
<line x1="221.96" y1="166.30" x2="221.96" y2="172.30" stroke="#1a1a1a" stroke-width="1.5"/>
<text transform="translate(222.3,186.8) scale(1.03,1)" font-size="13.0" text-anchor="middle" fill="#222">0</text>
<line x1="262.89" y1="166.30" x2="262.89" y2="172.30" stroke="#1a1a1a" stroke-width="1.5"/>
<text transform="translate(263.2,186.8) scale(1.03,1)" font-size="13.0" text-anchor="middle" fill="#222">1</text>
<line x1="303.82" y1="166.30" x2="303.82" y2="172.30" stroke="#1a1a1a" stroke-width="1.5"/>
<text transform="translate(304.1,186.8) scale(1.03,1)" font-size="13.0" text-anchor="middle" fill="#222">2</text>
<line x1="344.75" y1="166.30" x2="344.75" y2="172.30" stroke="#1a1a1a" stroke-width="1.5"/>
<text transform="translate(345.1,186.8) scale(1.03,1)" font-size="13.0" text-anchor="middle" fill="#222">3</text>
<text transform="translate(245.9,206.0) scale(1.03,1)" font-size="12.5" text-anchor="middle" fill="#222">Log10 [scFv concentration (nM)]</text>
<text transform="translate(100.3,103.6) rotate(-90) scale(1.0,1)" font-size="12.2" text-anchor="middle" fill="#222">Neutralization(%)</text>
<polyline points="146.2,146.2 148.7,145.8 151.2,145.3 153.7,144.7 156.2,144.1 158.6,143.3 161.1,142.4 163.6,141.4 166.1,140.2 168.6,138.9 171.1,137.3 173.5,135.6 176.0,133.6 178.5,131.4 181.0,129.0 183.5,126.3 185.9,123.3 188.4,120.1 190.9,116.6 193.4,112.9 195.9,109.1 198.3,105.0 200.8,100.9 203.3,96.7 205.8,92.5 208.3,88.3 210.8,84.3 213.2,80.4 215.7,76.7 218.2,73.2 220.7,69.9 223.2,66.9 225.6,64.1 228.1,61.6 230.6,59.4 233.1,57.4 235.6,55.6 238.1,54.0 240.5,52.6 243.0,51.4 245.5,50.4 248.0,49.5 250.5,48.7 252.9,48.0 255.4,47.4 257.9,46.9 260.4,46.5 262.9,46.1 265.3,45.8 267.8,45.5 270.3,45.2 272.8,45.0 275.3,44.9 277.8,44.7 280.2,44.6 282.7,44.5 285.2,44.4 287.7,44.3 290.2,44.2 292.6,44.2 295.1,44.1 297.6,44.1 300.1,44.1 302.6,44.0 305.0,44.0 307.5,44.0 310.0,44.0 312.5,44.0 315.0,43.9 317.5,43.9 319.9,43.9 322.4,43.9 324.9,43.9 327.4,43.9 329.9,43.9 332.3,43.9 334.8,43.9 337.3,43.9 339.8,43.9 342.3,43.9 344.8,43.9" fill="none" stroke="#1a1a1a" stroke-width="1.8" stroke-linejoin="round" stroke-linecap="round"/>
<polyline points="150.3,160.4 152.8,160.4 155.2,160.3 157.6,160.3 160.1,160.2 162.5,160.1 164.9,160.0 167.3,159.9 169.8,159.7 172.2,159.5 174.6,159.3 177.1,159.1 179.5,158.8 181.9,158.5 184.4,158.2 186.8,157.8 189.2,157.3 191.6,156.8 194.1,156.2 196.5,155.4 198.9,154.6 201.4,153.7 203.8,152.6 206.2,151.4 208.7,150.0 211.1,148.4 213.5,146.7 215.9,144.7 218.4,142.5 220.8,140.0 223.2,137.3 225.7,134.4 228.1,131.2 230.5,127.7 233.0,124.0 235.4,120.0 237.8,115.9 240.3,111.6 242.7,107.2 245.1,102.7 247.5,98.2 250.0,93.8 252.4,89.4 254.8,85.1 257.3,81.0 259.7,77.1 262.1,73.5 264.6,70.0 267.0,66.9 269.4,64.0 271.8,61.3 274.3,58.9 276.7,56.8 279.1,54.8 281.6,53.1 284.0,51.6 286.4,50.2 288.9,49.0 291.3,48.0 293.7,47.1 296.1,46.3 298.6,45.6 301.0,45.0 303.4,44.5 305.9,44.0 308.3,43.6 310.7,43.3 313.2,43.0 315.6,42.7 318.0,42.5 320.4,42.3 322.9,42.2 325.3,42.0 327.7,41.9 330.2,41.8 332.6,41.7 335.0,41.6 337.5,41.6 339.9,41.5 342.3,41.4 344.8,41.4" fill="none" stroke="#e61f19" stroke-width="1.8" stroke-linejoin="round" stroke-linecap="round"/>
<polyline points="150.3,154.9 152.8,154.8 155.2,154.8 157.6,154.7 160.1,154.6 162.5,154.5 164.9,154.3 167.3,154.2 169.8,154.0 172.2,153.8 174.6,153.6 177.1,153.3 179.5,153.0 181.9,152.6 184.4,152.2 186.8,151.7 189.2,151.2 191.6,150.6 194.1,149.9 196.5,149.1 198.9,148.2 201.4,147.1 203.8,146.0 206.2,144.6 208.7,143.1 211.1,141.5 213.5,139.6 215.9,137.5 218.4,135.2 220.8,132.7 223.2,130.0 225.7,127.0 228.1,123.8 230.5,120.4 233.0,116.8 235.4,113.0 237.8,109.1 240.3,105.1 242.7,101.0 245.1,96.9 247.5,92.8 250.0,88.8 252.4,84.9 254.8,81.2 257.3,77.6 259.7,74.2 262.1,71.0 264.6,68.0 267.0,65.3 269.4,62.8 271.8,60.5 274.3,58.4 276.7,56.5 279.1,54.9 281.6,53.4 284.0,52.1 286.4,50.9 288.9,49.9 291.3,49.0 293.7,48.2 296.1,47.5 298.6,46.8 301.0,46.3 303.4,45.8 305.9,45.4 308.3,45.1 310.7,44.8 313.2,44.5 315.6,44.3 318.0,44.1 320.4,43.9 322.9,43.7 325.3,43.6 327.7,43.5 330.2,43.4 332.6,43.3 335.0,43.2 337.5,43.2 339.9,43.1 342.3,43.1 344.8,43.0" fill="none" stroke="#138a43" stroke-width="1.8" stroke-linejoin="round" stroke-linecap="round"/>
<rect x="143.44" y="144.31" width="5.60" height="5.60" fill="#1a1a1a"/>
<rect x="168.00" y="130.65" width="5.60" height="5.60" fill="#1a1a1a"/>
<rect x="192.56" y="114.81" width="5.60" height="5.60" fill="#1a1a1a"/>
<rect x="217.11" y="71.11" width="5.60" height="5.60" fill="#1a1a1a"/>
<rect x="241.06" y="42.92" width="5.60" height="5.60" fill="#1a1a1a"/>
<rect x="265.94" y="43.03" width="5.60" height="5.60" fill="#1a1a1a"/>
<rect x="290.38" y="42.16" width="5.60" height="5.60" fill="#1a1a1a"/>
<rect x="315.35" y="43.25" width="5.60" height="5.60" fill="#1a1a1a"/>
<rect x="339.70" y="43.80" width="5.60" height="5.60" fill="#1a1a1a"/>
<polygon points="150.3,153.3 147.0,159.5 153.6,159.5" fill="#e61f19"/>
<polygon points="179.0,151.7 175.7,157.9 182.3,157.9" fill="#e61f19"/>
<polygon points="207.6,151.3 204.3,157.5 210.9,157.5" fill="#e61f19"/>
<line x1="236.29" y1="143.83" x2="236.29" y2="111.60" stroke="#e61f19" stroke-width="1.3"/>
<line x1="233.69" y1="111.60" x2="238.89" y2="111.60" stroke="#e61f19" stroke-width="1.3"/>
<line x1="233.69" y1="143.83" x2="238.89" y2="143.83" stroke="#e61f19" stroke-width="1.3"/>
<polygon points="236.3,123.8 233.0,130.0 239.6,130.0" fill="#e61f19"/>
<line x1="264.94" y1="64.08" x2="264.94" y2="46.05" stroke="#e61f19" stroke-width="1.3"/>
<line x1="262.34" y1="46.05" x2="267.54" y2="46.05" stroke="#e61f19" stroke-width="1.3"/>
<line x1="262.34" y1="64.08" x2="267.54" y2="64.08" stroke="#e61f19" stroke-width="1.3"/>
<polygon points="264.9,51.2 261.6,57.4 268.2,57.4" fill="#e61f19"/>
<line x1="293.59" y1="50.42" x2="293.59" y2="44.96" stroke="#e61f19" stroke-width="1.3"/>
<line x1="290.99" y1="44.96" x2="296.19" y2="44.96" stroke="#e61f19" stroke-width="1.3"/>
<line x1="290.99" y1="50.42" x2="296.19" y2="50.42" stroke="#e61f19" stroke-width="1.3"/>
<polygon points="293.6,46.3 290.3,52.5 296.9,52.5" fill="#e61f19"/>
<polygon points="322.2,42.5 318.9,48.7 325.5,48.7" fill="#e61f19"/>
<line x1="150.33" y1="155.30" x2="150.33" y2="149.29" stroke="#138a43" stroke-width="1.3"/>
<line x1="147.73" y1="149.29" x2="152.93" y2="149.29" stroke="#138a43" stroke-width="1.3"/>
<line x1="147.73" y1="155.30" x2="152.93" y2="155.30" stroke="#138a43" stroke-width="1.3"/>
<circle cx="150.3" cy="152.2" r="3.4" fill="#138a43"/>
<line x1="178.98" y1="156.28" x2="178.98" y2="141.32" stroke="#138a43" stroke-width="1.3"/>
<line x1="176.38" y1="141.32" x2="181.58" y2="141.32" stroke="#138a43" stroke-width="1.3"/>
<line x1="176.38" y1="156.28" x2="181.58" y2="156.28" stroke="#138a43" stroke-width="1.3"/>
<circle cx="179.0" cy="148.7" r="3.4" fill="#138a43"/>
<circle cx="207.6" cy="146.6" r="3.4" fill="#138a43"/>
<line x1="236.29" y1="129.08" x2="236.29" y2="115.10" stroke="#138a43" stroke-width="1.3"/>
<line x1="233.69" y1="115.10" x2="238.89" y2="115.10" stroke="#138a43" stroke-width="1.3"/>
<line x1="233.69" y1="129.08" x2="238.89" y2="129.08" stroke="#138a43" stroke-width="1.3"/>
<circle cx="236.3" cy="122.5" r="3.4" fill="#138a43"/>
<line x1="264.94" y1="56.98" x2="264.94" y2="47.47" stroke="#138a43" stroke-width="1.3"/>
<line x1="262.34" y1="47.47" x2="267.54" y2="47.47" stroke="#138a43" stroke-width="1.3"/>
<line x1="262.34" y1="56.98" x2="267.54" y2="56.98" stroke="#138a43" stroke-width="1.3"/>
<circle cx="264.9" cy="52.6" r="3.4" fill="#138a43"/>
<circle cx="293.6" cy="46.1" r="3.4" fill="#138a43"/>
<circle cx="322.2" cy="46.8" r="3.4" fill="#138a43"/>
<line x1="259.40" y1="104.00" x2="283.20" y2="104.00" stroke="#138a43" stroke-width="1.6"/>
<circle cx="271.3" cy="104.0" r="3.4" fill="#138a43"/>
<text transform="translate(297.0,107.9) scale(1.03,1)" font-size="11.85" text-anchor="start" fill="#222">AH2013 EC<tspan font-size="7.6" dy="3.9">50</tspan><tspan dy="-3.9">=3.43 nM</tspan></text>
<line x1="259.40" y1="120.60" x2="283.20" y2="120.60" stroke="#e61f19" stroke-width="1.6"/>
<polygon points="271.3,117.0 268.0,123.2 274.6,123.2" fill="#e61f19"/>
<text transform="translate(297.0,124.5) scale(1.03,1)" font-size="11.85" text-anchor="start" fill="#222">GD2017 EC<tspan font-size="7.6" dy="3.9">50</tspan><tspan dy="-3.9">=3.88 nM</tspan></text>
<line x1="259.40" y1="137.90" x2="283.20" y2="137.90" stroke="#1a1a1a" stroke-width="1.6"/>
<rect x="268.30" y="134.90" width="6.00" height="6.00" fill="#1a1a1a"/>
<text transform="translate(297.0,141.8) scale(1.03,1)" font-size="11.85" text-anchor="start" fill="#222">SH2013 EC<tspan font-size="7.6" dy="3.9">50</tspan><tspan dy="-3.9">=0.38 nM</tspan></text>
<text transform="translate(122.6,235.0) scale(1.03,1)" font-size="12.2" text-anchor="middle" fill="#222">Virus bind to 3’SLN</text>
<line x1="54.30" y1="267.44" x2="54.30" y2="274.48" stroke="#1a1a1a" stroke-width="1.7"/>
<line x1="51.60" y1="267.44" x2="57.00" y2="267.44" stroke="#1a1a1a" stroke-width="1.7"/>
<rect x="50.10" y="274.48" width="8.40" height="124.42" fill="#e61f19" stroke="#1a1a1a" stroke-width="1.4"/>
<line x1="63.90" y1="271.35" x2="63.90" y2="277.61" stroke="#1a1a1a" stroke-width="1.7"/>
<line x1="61.20" y1="271.35" x2="66.60" y2="271.35" stroke="#1a1a1a" stroke-width="1.7"/>
<rect x="59.70" y="277.61" width="8.40" height="121.29" fill="#137d3c" stroke="#1a1a1a" stroke-width="1.4"/>
<line x1="73.50" y1="378.55" x2="73.50" y2="391.07" stroke="#1a1a1a" stroke-width="1.7"/>
<line x1="70.80" y1="378.55" x2="76.20" y2="378.55" stroke="#1a1a1a" stroke-width="1.7"/>
<rect x="69.30" y="391.07" width="8.40" height="7.82" fill="#1a1a1a" stroke="#1a1a1a" stroke-width="1.4"/>
<line x1="93.50" y1="291.70" x2="93.50" y2="296.39" stroke="#1a1a1a" stroke-width="1.7"/>
<line x1="90.80" y1="291.70" x2="96.20" y2="291.70" stroke="#1a1a1a" stroke-width="1.7"/>
<rect x="89.30" y="296.39" width="8.40" height="102.51" fill="#e61f19" stroke="#1a1a1a" stroke-width="1.4"/>
<line x1="103.10" y1="275.26" x2="103.10" y2="280.74" stroke="#1a1a1a" stroke-width="1.7"/>
<line x1="100.40" y1="275.26" x2="105.80" y2="275.26" stroke="#1a1a1a" stroke-width="1.7"/>
<rect x="98.90" y="280.74" width="8.40" height="118.16" fill="#137d3c" stroke="#1a1a1a" stroke-width="1.4"/>
<line x1="112.70" y1="378.55" x2="112.70" y2="389.51" stroke="#1a1a1a" stroke-width="1.7"/>
<line x1="110.00" y1="378.55" x2="115.40" y2="378.55" stroke="#1a1a1a" stroke-width="1.7"/>
<rect x="108.50" y="389.51" width="8.40" height="9.39" fill="#1a1a1a" stroke="#1a1a1a" stroke-width="1.4"/>
<line x1="132.70" y1="342.56" x2="132.70" y2="349.60" stroke="#1a1a1a" stroke-width="1.7"/>
<line x1="130.00" y1="342.56" x2="135.40" y2="342.56" stroke="#1a1a1a" stroke-width="1.7"/>
<rect x="128.50" y="349.60" width="8.40" height="49.30" fill="#e61f19" stroke="#1a1a1a" stroke-width="1.4"/>
<line x1="142.30" y1="324.56" x2="142.30" y2="335.52" stroke="#1a1a1a" stroke-width="1.7"/>
<line x1="139.60" y1="324.56" x2="145.00" y2="324.56" stroke="#1a1a1a" stroke-width="1.7"/>
<rect x="138.10" y="335.52" width="8.40" height="63.38" fill="#137d3c" stroke="#1a1a1a" stroke-width="1.4"/>
<line x1="151.90" y1="375.42" x2="151.90" y2="385.60" stroke="#1a1a1a" stroke-width="1.7"/>
<line x1="149.20" y1="375.42" x2="154.60" y2="375.42" stroke="#1a1a1a" stroke-width="1.7"/>
<rect x="147.70" y="385.60" width="8.40" height="13.30" fill="#1a1a1a" stroke="#1a1a1a" stroke-width="1.4"/>
<line x1="172.40" y1="380.12" x2="172.40" y2="387.94" stroke="#1a1a1a" stroke-width="1.7"/>
<line x1="169.70" y1="380.12" x2="175.10" y2="380.12" stroke="#1a1a1a" stroke-width="1.7"/>
<rect x="168.20" y="387.94" width="8.40" height="10.95" fill="#e61f19" stroke="#1a1a1a" stroke-width="1.4"/>
<line x1="182.00" y1="362.12" x2="182.00" y2="373.08" stroke="#1a1a1a" stroke-width="1.7"/>
<line x1="179.30" y1="362.12" x2="184.70" y2="362.12" stroke="#1a1a1a" stroke-width="1.7"/>
<rect x="177.80" y="373.08" width="8.40" height="25.82" fill="#137d3c" stroke="#1a1a1a" stroke-width="1.4"/>
<line x1="191.60" y1="380.12" x2="191.60" y2="388.73" stroke="#1a1a1a" stroke-width="1.7"/>
<line x1="188.90" y1="380.12" x2="194.30" y2="380.12" stroke="#1a1a1a" stroke-width="1.7"/>
<rect x="187.40" y="388.73" width="8.40" height="10.17" fill="#1a1a1a" stroke="#1a1a1a" stroke-width="1.4"/>
<line x1="44.40" y1="241.50" x2="44.40" y2="399.80" stroke="#1a1a1a" stroke-width="1.9"/>
<line x1="39.80" y1="398.90" x2="201.60" y2="398.90" stroke="#1a1a1a" stroke-width="1.9"/>
<line x1="39.80" y1="398.90" x2="44.40" y2="398.90" stroke="#1a1a1a" stroke-width="1.6"/>
<text transform="translate(36.8,401.8) scale(1.03,1)" font-size="11.8" text-anchor="end" fill="#222">0</text>
<line x1="39.80" y1="367.60" x2="44.40" y2="367.60" stroke="#1a1a1a" stroke-width="1.6"/>
<text transform="translate(36.8,370.5) scale(1.03,1)" font-size="11.8" text-anchor="end" fill="#222">20</text>
<line x1="39.80" y1="336.30" x2="44.40" y2="336.30" stroke="#1a1a1a" stroke-width="1.6"/>
<text transform="translate(36.8,339.2) scale(1.03,1)" font-size="11.8" text-anchor="end" fill="#222">40</text>
<line x1="39.80" y1="305.00" x2="44.40" y2="305.00" stroke="#1a1a1a" stroke-width="1.6"/>
<text transform="translate(36.8,307.9) scale(1.03,1)" font-size="11.8" text-anchor="end" fill="#222">60</text>
<line x1="39.80" y1="273.70" x2="44.40" y2="273.70" stroke="#1a1a1a" stroke-width="1.6"/>
<text transform="translate(36.8,276.6) scale(1.03,1)" font-size="11.8" text-anchor="end" fill="#222">80</text>
<line x1="39.80" y1="242.40" x2="44.40" y2="242.40" stroke="#1a1a1a" stroke-width="1.6"/>
<text transform="translate(36.8,245.3) scale(1.03,1)" font-size="11.8" text-anchor="end" fill="#222">100</text>
<line x1="63.90" y1="398.90" x2="63.90" y2="403.50" stroke="#1a1a1a" stroke-width="1.6"/>
<text transform="translate(63.3,413.6) scale(1.03,1)" font-size="11.9" text-anchor="middle" fill="#222">10</text>
<line x1="103.10" y1="398.90" x2="103.10" y2="403.50" stroke="#1a1a1a" stroke-width="1.6"/>
<text transform="translate(105.3,413.6) scale(1.03,1)" font-size="11.9" text-anchor="middle" fill="#222">3.33</text>
<line x1="142.30" y1="398.90" x2="142.30" y2="403.50" stroke="#1a1a1a" stroke-width="1.6"/>
<text transform="translate(144.3,413.6) scale(1.03,1)" font-size="11.9" text-anchor="middle" fill="#222">1.11</text>
<line x1="182.00" y1="398.90" x2="182.00" y2="403.50" stroke="#1a1a1a" stroke-width="1.6"/>
<text transform="translate(184.4,413.6) scale(1.03,1)" font-size="11.9" text-anchor="middle" fill="#222">0.37</text>
<text transform="translate(124.5,429.2) scale(1.03,1)" font-size="11.58" text-anchor="middle" fill="#222">Concentration (nM)</text>
<text transform="translate(15.9,307.0) rotate(-90) scale(1.0,1)" font-size="12.2" text-anchor="middle" fill="#222">Inhibition (%)</text>
<line x1="122.60" y1="249.30" x2="138.50" y2="249.30" stroke="#e61f19" stroke-width="2.7"/>
<text transform="translate(143.1,252.3) scale(1.03,1)" font-size="12.0" text-anchor="start" fill="#222">6Y13 IgG</text>
<line x1="122.60" y1="263.70" x2="138.50" y2="263.70" stroke="#137d3c" stroke-width="2.7"/>
<text transform="translate(143.1,267.2) scale(1.03,1)" font-size="12.0" text-anchor="start" fill="#222">6Y13 scFv</text>
<line x1="122.60" y1="279.30" x2="138.50" y2="279.30" stroke="#1a1a1a" stroke-width="2.7"/>
<text transform="translate(143.1,282.1) scale(1.03,1)" font-size="12.0" text-anchor="start" fill="#222">4E3 IgG</text>
<line x1="259.80" y1="375.30" x2="259.80" y2="391.00" stroke="#1a1a1a" stroke-width="1.7"/>
<line x1="255.20" y1="375.30" x2="264.40" y2="375.30" stroke="#1a1a1a" stroke-width="1.7"/>
<line x1="288.50" y1="341.98" x2="288.50" y2="359.79" stroke="#1a1a1a" stroke-width="1.7"/>
<line x1="283.90" y1="341.98" x2="293.10" y2="341.98" stroke="#1a1a1a" stroke-width="1.7"/>
<rect x="279.60" y="359.79" width="17.80" height="31.21" fill="#9a9ba1" stroke="#1a1a1a" stroke-width="1.5"/>
<line x1="317.00" y1="276.48" x2="317.00" y2="280.70" stroke="#1a1a1a" stroke-width="1.7"/>
<line x1="312.40" y1="276.48" x2="321.60" y2="276.48" stroke="#1a1a1a" stroke-width="1.7"/>
<rect x="308.10" y="280.70" width="17.80" height="110.30" fill="#ea6a1e" stroke="#1a1a1a" stroke-width="1.5"/>
<line x1="345.70" y1="296.78" x2="345.70" y2="307.89" stroke="#1a1a1a" stroke-width="1.7"/>
<line x1="341.10" y1="296.78" x2="350.30" y2="296.78" stroke="#1a1a1a" stroke-width="1.7"/>
<rect x="336.80" y="307.89" width="17.80" height="83.11" fill="#137d3c" stroke="#1a1a1a" stroke-width="1.5"/>
<line x1="374.00" y1="266.91" x2="374.00" y2="281.85" stroke="#1a1a1a" stroke-width="1.7"/>
<line x1="369.40" y1="266.91" x2="378.60" y2="266.91" stroke="#1a1a1a" stroke-width="1.7"/>
<rect x="365.10" y="281.85" width="17.80" height="109.15" fill="#e61f19" stroke="#1a1a1a" stroke-width="1.5"/>
<line x1="240.80" y1="236.90" x2="240.80" y2="391.90" stroke="#1a1a1a" stroke-width="1.8"/>
<line x1="236.20" y1="391.00" x2="394.90" y2="391.00" stroke="#1a1a1a" stroke-width="1.8"/>
<line x1="236.20" y1="391.00" x2="240.80" y2="391.00" stroke="#1a1a1a" stroke-width="1.6"/>
<text transform="translate(235.8,394.2) scale(1.03,1)" font-size="11.6" text-anchor="end" fill="#222">0</text>
<line x1="236.20" y1="352.70" x2="240.80" y2="352.70" stroke="#1a1a1a" stroke-width="1.6"/>
<text transform="translate(235.8,355.9) scale(1.03,1)" font-size="11.6" text-anchor="end" fill="#222">1</text>
<line x1="236.20" y1="314.40" x2="240.80" y2="314.40" stroke="#1a1a1a" stroke-width="1.6"/>
<text transform="translate(235.8,317.6) scale(1.03,1)" font-size="11.6" text-anchor="end" fill="#222">2</text>
<line x1="236.20" y1="276.10" x2="240.80" y2="276.10" stroke="#1a1a1a" stroke-width="1.6"/>
<text transform="translate(235.8,279.3) scale(1.03,1)" font-size="11.6" text-anchor="end" fill="#222">3</text>
<line x1="236.20" y1="237.80" x2="240.80" y2="237.80" stroke="#1a1a1a" stroke-width="1.6"/>
<text transform="translate(235.8,241.0) scale(1.03,1)" font-size="11.6" text-anchor="end" fill="#222">4</text>
<line x1="259.80" y1="391.00" x2="259.80" y2="395.80" stroke="#1a1a1a" stroke-width="1.6"/>
<text transform="translate(266.2,406.0) rotate(-45) scale(1.0,1)" font-size="11.4" text-anchor="end" fill="#222">Control</text>
<line x1="288.50" y1="391.00" x2="288.50" y2="395.80" stroke="#1a1a1a" stroke-width="1.6"/>
<text transform="translate(294.9,406.0) rotate(-45) scale(1.0,1)" font-size="11.4" text-anchor="end" fill="#222">CT149 IgG</text>
<line x1="317.00" y1="391.00" x2="317.00" y2="395.80" stroke="#1a1a1a" stroke-width="1.6"/>
<text transform="translate(322.8,405.2) rotate(-45) scale(1.0,1)" font-size="11.4" text-anchor="end" fill="#222">L4A-14 IgG</text>
<line x1="345.70" y1="391.00" x2="345.70" y2="395.80" stroke="#1a1a1a" stroke-width="1.6"/>
<text transform="translate(352.4,406.8) rotate(-45) scale(1.0,1)" font-size="11.4" text-anchor="end" fill="#222">6Y13 scFv</text>
<line x1="374.00" y1="391.00" x2="374.00" y2="395.80" stroke="#1a1a1a" stroke-width="1.6"/>
<text transform="translate(383.0,405.7) rotate(-45) scale(1.0,1)" font-size="11.4" text-anchor="end" fill="#222">6Y13 IgG</text>
<text transform="translate(221.5,312.5) rotate(-90) scale(1.0,1)" font-size="11.9" text-anchor="middle" fill="#222">ΔΔCT</text>
<text transform="translate(287.4,249.3) scale(1.03,1)" font-size="12.0" text-anchor="middle" fill="#222">NS</text>
<text transform="translate(317.0,251.5) scale(1.03,1)" font-size="12.5" text-anchor="middle" fill="#222">***</text>
<text transform="translate(345.7,251.5) scale(1.03,1)" font-size="12.5" text-anchor="middle" fill="#222">**</text>
<text transform="translate(374.0,251.5) scale(1.03,1)" font-size="12.5" text-anchor="middle" fill="#222">***</text>
<text transform="translate(571.2,235.9) scale(1.03,1)" font-size="12.3" text-anchor="middle" fill="#222">HA+mAb complexes bind to 3’SLN</text>
<polyline points="450.9,384.8 452.0,384.8 453.1,384.8 454.2,384.8 455.3,384.8 456.3,384.8 456.6,384.8 456.9,384.8 457.1,384.8 457.4,384.8 457.7,384.8 457.9,384.8 458.2,384.8 458.5,384.8 458.8,384.8 459.0,384.8 459.3,384.8 459.6,384.8 459.8,384.8 460.1,384.8 460.4,384.8 460.6,384.8 460.9,384.8 461.2,384.8 461.5,384.8 461.7,384.8 462.0,384.8 462.3,384.8 462.5,384.8 462.8,384.8 463.1,384.8 463.3,384.8 463.6,384.8 463.9,384.8 465.0,384.8 466.0,384.8 467.1,384.8 468.2,384.8 469.3,384.8 470.3,384.8 471.4,384.8 472.5,384.8 473.6,384.8 474.7,384.8 475.7,384.8 476.8,384.8 477.9,384.8 479.0,384.8 480.0,384.8 481.1,384.8 482.2,384.8 483.3,384.8 484.4,384.8 485.4,384.8 486.5,384.8 487.6,384.8 488.7,384.8 489.7,384.8 490.8,384.8 491.9,384.8 493.0,384.8 494.1,384.8 495.1,384.8 496.2,384.8 497.3,384.8 498.4,384.8 499.4,384.8 500.5,384.8 501.6,384.8 502.7,384.8 503.8,384.8 504.8,384.8 505.9,384.8 507.0,384.8 508.1,384.8 509.2,384.8 510.2,384.8 511.3,384.8 512.4,384.8 513.5,384.8 514.5,384.8 515.6,384.8 516.7,384.8 517.8,384.8 518.9,384.8 519.9,384.8 520.2,384.8 520.5,384.8 520.7,384.8 521.0,384.8 521.3,385.3 521.5,385.7 521.8,386.2 522.1,386.7 522.4,387.2 522.6,387.6 522.9,387.2 523.2,386.7 523.4,386.2 523.7,385.7 524.0,385.3 524.2,384.8 524.5,384.8 524.8,384.8 525.1,384.8 525.3,384.8 525.6,384.8 525.9,384.8 526.1,384.8 526.4,384.8 526.7,384.8 526.9,384.8 527.2,384.8 527.5,384.8 527.7,384.8 528.0,384.8 528.3,384.8 528.6,384.8 529.6,384.8 530.7,384.8 531.8,384.8 532.9,384.8 533.9,384.8 535.0,384.8 536.1,384.8 537.2,384.8 538.3,384.8 539.3,384.8 540.4,384.8 541.5,384.8 542.6,384.8 543.6,384.8 544.7,384.8 545.8,384.8 546.9,384.8 548.0,384.8 549.0,384.8 550.1,384.8 551.2,384.8 552.3,384.8 553.4,384.8 554.4,384.8 555.5,384.8 556.6,384.8 557.7,384.8 558.7,384.8 559.8,384.8 560.9,384.8 562.0,384.8 563.1,384.8 564.1,384.8 565.2,384.8 566.3,384.8 567.4,384.8 568.4,384.8 569.5,384.8 570.6,384.8 571.7,384.8 572.8,384.8 573.8,384.8 574.9,384.8 576.0,384.8 577.1,384.8 578.1,384.8 579.2,384.8 580.3,384.8 581.4,384.8 582.5,384.8 583.5,384.8 584.6,384.8 585.7,384.8 586.8,384.8 587.8,384.8 588.9,384.8 590.0,384.8 591.1,384.8 592.2,384.8 593.2,384.8 594.3,384.8 595.4,384.8 596.5,384.8 597.5,384.8 598.6,384.8 599.7,384.8 600.8,384.8 601.9,384.8 602.9,384.8 604.0,384.8 605.1,384.8 606.2,384.8 607.2,384.8 608.3,384.8 609.4,384.8 610.5,384.8 611.6,384.8 612.6,384.8 613.7,384.8 614.8,384.8 615.9,384.8 617.0,384.8 618.0,384.8 619.1,384.8 620.2,384.8 621.3,384.8 622.3,384.8 623.4,384.8 624.5,384.8 625.6,384.8 626.7,384.8 627.7,384.8 628.8,384.8 629.9,384.8 631.0,384.8 632.0,384.8 633.1,384.8 634.2,384.8 635.3,384.8 636.4,384.8 637.4,384.8 638.5,384.8 639.6,384.8 640.7,384.8 641.7,384.8 642.8,384.8 643.9,384.8 645.0,384.8 646.1,384.8 647.1,384.8 648.2,384.8 649.3,384.8 650.4,384.8 651.4,384.8 652.5,384.8 653.6,384.8 654.7,384.8 655.8,384.8 656.8,384.8 657.9,384.8 659.0,384.8 660.1,384.8 661.1,384.8 662.2,384.8 663.3,384.8 664.4,384.8 665.5,384.8 666.5,384.8 667.6,384.8 668.7,384.8 669.8,384.8 670.9,384.8 671.9,384.8 673.0,384.8 674.1,384.8 675.2,384.8 676.2,384.8 677.3,384.8 678.4,384.8 679.5,384.8 680.6,384.8 681.6,384.8 682.7,384.8 683.8,384.8 684.9,384.8 685.9,384.8 687.0,384.8 688.1,384.8" fill="none" stroke="#f0641e" stroke-width="1.5" stroke-linejoin="round" stroke-linecap="round"/>
<polyline points="450.9,385.3 452.0,385.3 453.1,385.3 454.2,385.3 455.3,385.3 456.3,385.3 456.6,385.3 456.9,385.3 457.1,385.3 457.4,385.3 457.7,385.3 457.9,385.3 458.2,385.3 458.5,385.3 458.8,385.3 459.0,385.3 459.3,385.3 459.6,385.3 459.8,385.3 460.1,385.3 460.4,385.3 460.6,385.3 460.9,385.3 461.2,385.3 461.5,385.3 461.7,385.3 462.0,385.3 462.3,385.3 462.5,385.3 462.8,385.3 463.1,385.3 463.3,385.3 463.6,385.3 463.9,385.3 465.0,385.3 466.0,385.3 467.1,385.3 468.2,385.3 469.3,385.3 470.3,385.3 471.4,385.3 472.5,385.3 473.6,385.3 474.7,385.3 475.7,385.3 476.8,385.3 477.9,385.3 479.0,385.3 480.0,385.3 481.1,385.3 482.2,385.3 483.3,385.3 484.4,385.3 485.4,385.3 486.5,385.3 487.6,385.3 488.7,385.3 489.7,385.3 490.8,385.3 491.9,385.3 493.0,385.3 494.1,385.3 495.1,385.3 496.2,385.3 497.3,385.3 498.4,385.3 499.4,385.3 500.5,385.3 501.6,385.3 502.7,385.3 503.8,385.3 504.8,385.3 505.9,385.3 507.0,385.3 508.1,385.3 509.2,385.3 510.2,385.3 511.3,385.3 512.4,385.3 513.5,385.3 514.5,385.3 515.6,385.3 516.7,385.3 517.8,385.3 518.9,385.3 519.9,385.3 520.2,385.3 520.5,385.3 520.7,385.3 521.0,385.3 521.3,385.8 521.5,386.2 521.8,386.7 522.1,387.2 522.4,387.7 522.6,388.1 522.9,387.7 523.2,387.2 523.4,386.7 523.7,386.2 524.0,385.8 524.2,385.3 524.5,385.3 524.8,385.3 525.1,385.3 525.3,385.3 525.6,385.3 525.9,385.3 526.1,385.3 526.4,385.3 526.7,385.3 526.9,385.3 527.2,385.3 527.5,385.3 527.7,385.3 528.0,385.3 528.3,385.3 528.6,385.3 529.6,385.3 530.7,385.3 531.8,385.3 532.9,385.3 533.9,385.3 535.0,385.3 536.1,385.3 537.2,385.3 538.3,385.3 539.3,385.3 540.4,385.3 541.5,385.3 542.6,385.3 543.6,385.3 544.7,385.3 545.8,385.3 546.9,385.3 548.0,385.3 549.0,385.3 550.1,385.3 551.2,385.3 552.3,385.3 553.4,385.3 554.4,385.3 555.5,385.3 556.6,385.3 557.7,385.3 558.7,385.3 559.8,385.3 560.9,385.3 562.0,385.3 563.1,385.3 564.1,385.3 565.2,385.3 566.3,385.3 567.4,385.3 568.4,385.3 569.5,385.3 570.6,385.3 571.7,385.3 572.8,385.3 573.8,385.3 574.9,385.3 576.0,385.3 577.1,385.3 578.1,385.3 579.2,385.3 580.3,385.3 581.4,385.3 582.5,385.3 583.5,385.3 584.6,385.3 585.7,385.3 586.8,385.3 587.8,385.3 588.9,385.3 590.0,385.3 591.1,385.3 592.2,385.3 593.2,385.3 594.3,385.3 595.4,385.3 596.5,385.3 597.5,385.3 598.6,385.3 599.7,385.3 600.8,385.3 601.9,385.3 602.9,385.3 604.0,385.3 605.1,385.3 606.2,385.3 607.2,385.3 608.3,385.3 609.4,385.3 610.5,385.3 611.6,385.3 612.6,385.3 613.7,385.3 614.8,385.3 615.9,385.3 617.0,385.3 618.0,385.3 619.1,385.3 620.2,385.3 621.3,385.3 622.3,385.3 623.4,385.3 624.5,385.3 625.6,385.3 626.7,385.3 627.7,385.3 628.8,385.3 629.9,385.3 631.0,385.3 632.0,385.3 633.1,385.3 634.2,385.3 635.3,385.3 636.4,385.3 637.4,385.3 638.5,385.3 639.6,385.3 640.7,385.3 641.7,385.3 642.8,385.3 643.9,385.3 645.0,385.3 646.1,385.3 647.1,385.3 648.2,385.3 649.3,385.3 650.4,385.3 651.4,385.3 652.5,385.3 653.6,385.3 654.7,385.3 655.8,385.3 656.8,385.3 657.9,385.3 659.0,385.3 660.1,385.3 661.1,385.3 662.2,385.3 663.3,385.3 664.4,385.3 665.5,385.3 666.5,385.3 667.6,385.3 668.7,385.3 669.8,385.3 670.9,385.3 671.9,385.3 673.0,385.3 674.1,385.3 675.2,385.3 676.2,385.3 677.3,385.3 678.4,385.3 679.5,385.3 680.6,385.3 681.6,385.3 682.7,385.3 683.8,385.3 684.9,385.3 685.9,385.3 687.0,385.3 688.1,385.3" fill="none" stroke="#7a3fa8" stroke-width="1.5" stroke-linejoin="round" stroke-linecap="round"/>
<polyline points="450.9,385.1 452.0,385.1 453.1,385.1 454.2,385.1 455.3,385.1 456.3,385.1 456.6,385.1 456.9,385.1 457.1,385.1 457.4,385.1 457.7,385.1 457.9,385.1 458.2,385.1 458.5,385.1 458.8,385.1 459.0,385.1 459.3,385.1 459.6,385.1 459.8,385.1 460.1,385.1 460.4,385.1 460.6,385.1 460.9,385.1 461.2,385.1 461.5,385.1 461.7,385.1 462.0,385.1 462.3,385.1 462.5,385.1 462.8,385.1 463.1,385.1 463.3,385.1 463.6,385.1 463.9,385.1 465.0,385.1 466.0,385.1 467.1,385.1 468.2,385.1 469.3,385.1 470.3,385.1 471.4,385.1 472.5,385.1 473.6,385.1 474.7,385.1 475.7,385.1 476.8,385.1 477.9,385.1 479.0,385.1 480.0,385.1 481.1,385.1 482.2,385.1 483.3,385.1 484.4,385.1 485.4,385.1 486.5,385.1 487.6,385.1 488.7,385.1 489.7,385.1 490.8,385.1 491.9,385.1 493.0,385.1 494.1,385.1 495.1,385.1 496.2,385.1 497.3,385.1 498.4,385.1 499.4,385.1 500.5,385.1 501.6,385.1 502.7,385.1 503.8,385.1 504.8,385.1 505.9,385.1 507.0,385.1 508.1,385.1 509.2,385.1 510.2,385.1 511.3,385.1 512.4,385.1 513.5,385.1 514.5,385.1 515.6,385.1 516.7,385.1 517.8,385.1 518.9,385.1 519.9,385.1 520.2,385.1 520.5,385.1 520.7,385.1 521.0,385.1 521.3,385.6 521.5,386.0 521.8,386.5 522.1,387.0 522.4,387.5 522.6,387.9 522.9,387.5 523.2,387.0 523.4,386.5 523.7,386.0 524.0,385.6 524.2,385.1 524.5,385.1 524.8,385.1 525.1,385.1 525.3,385.1 525.6,385.1 525.9,385.1 526.1,385.1 526.4,385.1 526.7,385.1 526.9,385.1 527.2,385.1 527.5,385.1 527.7,385.1 528.0,385.1 528.3,385.1 528.6,385.1 529.6,385.1 530.7,385.1 531.8,385.1 532.9,385.1 533.9,385.1 535.0,385.1 536.1,385.1 537.2,385.1 538.3,385.1 539.3,385.1 540.4,385.1 541.5,385.1 542.6,385.1 543.6,385.1 544.7,385.1 545.8,385.1 546.9,385.1 548.0,385.1 549.0,385.1 550.1,385.1 551.2,385.1 552.3,385.1 553.4,385.1 554.4,385.1 555.5,385.1 556.6,385.1 557.7,385.1 558.7,385.1 559.8,385.1 560.9,385.1 562.0,385.1 563.1,385.1 564.1,385.1 565.2,385.1 566.3,385.1 567.4,385.1 568.4,385.1 569.5,385.1 570.6,385.1 571.7,385.1 572.8,385.1 573.8,385.1 574.9,385.1 576.0,385.1 577.1,385.1 578.1,385.1 579.2,385.1 580.3,385.1 581.4,385.1 582.5,385.1 583.5,385.1 584.6,385.1 585.7,385.1 586.8,385.1 587.8,385.1 588.9,385.1 590.0,385.1 591.1,385.1 592.2,385.1 593.2,385.1 594.3,385.1 595.4,385.1 596.5,385.1 597.5,385.1 598.6,385.1 599.7,385.1 600.8,385.1 601.9,385.1 602.9,385.1 604.0,385.1 605.1,385.1 606.2,385.1 607.2,385.1 608.3,385.1 609.4,385.1 610.5,385.1 611.6,385.1 612.6,385.1 613.7,385.1 614.8,385.1 615.9,385.1 617.0,385.1 618.0,385.1 619.1,385.1 620.2,385.1 621.3,385.1 622.3,385.1 623.4,385.1 624.5,385.1 625.6,385.1 626.7,385.1 627.7,385.1 628.8,385.1 629.9,385.1 631.0,385.1 632.0,385.1 633.1,385.1 634.2,385.1 635.3,385.1 636.4,385.1 637.4,385.1 638.5,385.1 639.6,385.1 640.7,385.1 641.7,385.1 642.8,385.1 643.9,385.1 645.0,385.1 646.1,385.1 647.1,385.1 648.2,385.1 649.3,385.1 650.4,385.1 651.4,385.1 652.5,385.1 653.6,385.1 654.7,385.1 655.8,385.1 656.8,385.1 657.9,385.1 659.0,385.1 660.1,385.1 661.1,385.1 662.2,385.1 663.3,385.1 664.4,385.1 665.5,385.1 666.5,385.1 667.6,385.1 668.7,385.1 669.8,385.1 670.9,385.1 671.9,385.1 673.0,385.1 674.1,385.1 675.2,385.1 676.2,385.1 677.3,385.1 678.4,385.1 679.5,385.1 680.6,385.1 681.6,385.1 682.7,385.1 683.8,385.1 684.9,385.1 685.9,385.1 687.0,385.1 688.1,385.1" fill="none" stroke="#138a43" stroke-width="1.8" stroke-linejoin="round" stroke-linecap="round"/>
<polyline points="450.9,385.0 452.0,385.0 453.1,385.0 454.2,385.0 455.3,385.0 456.3,385.0 456.6,385.0 456.9,385.0 457.1,385.0 457.4,385.0 457.7,381.5 457.9,378.6 458.2,376.2 458.5,374.3 458.8,372.6 459.0,371.3 459.3,370.2 459.6,369.2 459.8,368.4 460.1,367.8 460.4,367.2 460.6,366.8 460.9,366.4 461.2,366.0 461.5,365.7 461.7,365.4 462.0,365.2 462.3,365.0 462.5,364.8 462.8,364.7 463.1,364.5 463.3,364.4 463.6,364.2 463.9,364.1 465.0,363.7 466.0,363.3 467.1,363.0 468.2,362.7 469.3,362.4 470.3,362.1 471.4,361.8 472.5,361.5 473.6,361.2 474.7,361.0 475.7,360.7 476.8,360.5 477.9,360.3 479.0,360.0 480.0,359.8 481.1,359.6 482.2,359.4 483.3,359.2 484.4,359.0 485.4,358.8 486.5,358.6 487.6,358.5 488.7,358.3 489.7,358.1 490.8,358.0 491.9,357.8 493.0,357.7 494.1,357.5 495.1,357.4 496.2,357.3 497.3,357.1 498.4,357.0 499.4,356.9 500.5,356.8 501.6,356.6 502.7,356.5 503.8,356.4 504.8,356.3 505.9,356.2 507.0,356.1 508.1,356.0 509.2,355.9 510.2,355.8 511.3,355.7 512.4,355.7 513.5,355.6 514.5,355.5 515.6,355.4 516.7,355.4 517.8,355.3 518.9,355.2 519.9,355.1 520.2,355.1 520.5,355.1 520.7,357.8 521.0,360.2 521.3,362.2 521.5,363.9 521.8,365.4 522.1,366.6 522.4,367.7 522.6,368.7 522.9,369.5 523.2,370.2 523.4,370.8 523.7,371.3 524.0,371.7 524.2,372.1 524.5,372.5 524.8,372.8 525.1,373.0 525.3,373.3 525.6,373.5 525.9,373.7 526.1,373.8 526.4,374.0 526.7,374.1 526.9,374.2 527.2,374.3 527.5,374.4 527.7,374.5 528.0,374.6 528.3,374.6 528.6,374.7 529.6,374.9 530.7,375.1 531.8,375.3 532.9,375.4 533.9,375.6 535.0,375.7 536.1,375.8 537.2,375.9 538.3,376.0 539.3,376.1 540.4,376.2 541.5,376.3 542.6,376.4 543.6,376.5 544.7,376.6 545.8,376.7 546.9,376.8 548.0,376.8 549.0,376.9 550.1,377.0 551.2,377.1 552.3,377.1 553.4,377.2 554.4,377.2 555.5,377.3 556.6,377.4 557.7,377.4 558.7,377.5 559.8,377.5 560.9,377.6 562.0,377.6 563.1,377.6 564.1,377.7 565.2,377.7 566.3,377.8 567.4,377.8 568.4,377.8 569.5,377.9 570.6,377.9 571.7,377.9 572.8,378.0 573.8,378.0 574.9,378.0 576.0,378.1 577.1,378.1 578.1,378.1 579.2,378.1 580.3,378.2 581.4,378.2 582.5,378.2 583.5,378.2 584.6,378.2 585.7,378.3 586.8,378.3 587.8,378.3 588.9,378.3 590.0,378.3 591.1,378.3 592.2,378.4 593.2,378.4 594.3,378.4 595.4,378.4 596.5,378.4 597.5,378.4 598.6,378.4 599.7,378.4 600.8,378.5 601.9,378.5 602.9,378.5 604.0,378.5 605.1,378.5 606.2,378.5 607.2,378.5 608.3,378.5 609.4,378.5 610.5,378.5 611.6,378.5 612.6,378.5 613.7,378.6 614.8,378.6 615.9,378.6 617.0,378.6 618.0,378.6 619.1,378.6 620.2,378.6 621.3,378.6 622.3,378.6 623.4,378.6 624.5,378.6 625.6,378.6 626.7,378.6 627.7,378.6 628.8,378.6 629.9,378.6 631.0,378.6 632.0,378.6 633.1,378.6 634.2,378.6 635.3,378.6 636.4,378.6 637.4,378.7 638.5,378.7 639.6,378.7 640.7,378.7 641.7,378.7 642.8,378.7 643.9,378.7 645.0,378.7 646.1,378.7 647.1,378.7 648.2,378.7 649.3,378.7 650.4,378.7 651.4,378.7 652.5,378.7 653.6,378.7 654.7,378.7 655.8,378.7 656.8,378.7 657.9,378.7 659.0,378.7 660.1,378.7 661.1,378.7 662.2,378.7 663.3,378.7 664.4,378.7 665.5,378.7 666.5,378.7 667.6,378.7 668.7,378.7 669.8,378.7 670.9,378.7 671.9,378.7 673.0,378.7 674.1,378.7 675.2,378.7 676.2,378.7 677.3,378.7 678.4,378.7 679.5,378.7 680.6,378.7 681.6,378.7 682.7,378.7 683.8,378.7 684.9,378.7 685.9,378.7 687.0,378.7 688.1,378.7" fill="none" stroke="#1f4fc0" stroke-width="1.85" stroke-linejoin="round" stroke-linecap="round"/>
<polyline points="450.9,385.0 452.0,385.0 453.1,385.0 454.2,385.0 455.3,385.0 456.3,385.0 456.6,385.0 456.9,385.0 457.1,385.0 457.4,385.0 457.7,382.1 457.9,379.4 458.2,376.9 458.5,374.7 458.8,372.7 459.0,370.8 459.3,369.1 459.6,367.5 459.8,366.1 460.1,364.8 460.4,363.5 460.6,362.4 460.9,361.4 461.2,360.5 461.5,359.6 461.7,358.8 462.0,358.0 462.3,357.3 462.5,356.7 462.8,356.1 463.1,355.5 463.3,355.0 463.6,354.5 463.9,354.0 465.0,352.4 466.0,351.1 467.1,350.1 468.2,349.1 469.3,348.3 470.3,347.6 471.4,346.9 472.5,346.3 473.6,345.7 474.7,345.2 475.7,344.7 476.8,344.2 477.9,343.7 479.0,343.3 480.0,342.8 481.1,342.4 482.2,342.0 483.3,341.6 484.4,341.3 485.4,340.9 486.5,340.6 487.6,340.3 488.7,339.9 489.7,339.6 490.8,339.4 491.9,339.1 493.0,338.8 494.1,338.6 495.1,338.3 496.2,338.1 497.3,337.9 498.4,337.6 499.4,337.4 500.5,337.2 501.6,337.0 502.7,336.9 503.8,336.7 504.8,336.5 505.9,336.3 507.0,336.2 508.1,336.0 509.2,335.9 510.2,335.7 511.3,335.6 512.4,335.5 513.5,335.4 514.5,335.2 515.6,335.1 516.7,335.0 517.8,334.9 518.9,334.8 519.9,334.7 520.2,334.7 520.5,334.7 520.7,337.7 521.0,340.3 521.3,342.8 521.5,344.9 521.8,346.9 522.1,348.6 522.4,350.2 522.6,351.6 522.9,352.8 523.2,354.0 523.4,355.0 523.7,355.9 524.0,356.8 524.2,357.5 524.5,358.2 524.8,358.8 525.1,359.4 525.3,359.9 525.6,360.4 525.9,360.8 526.1,361.2 526.4,361.6 526.7,361.9 526.9,362.2 527.2,362.5 527.5,362.7 527.7,362.9 528.0,363.2 528.3,363.4 528.6,363.6 529.6,364.2 530.7,364.7 531.8,365.1 532.9,365.5 533.9,365.8 535.0,366.0 536.1,366.3 537.2,366.5 538.3,366.7 539.3,366.9 540.4,367.1 541.5,367.3 542.6,367.5 543.6,367.6 544.7,367.8 545.8,367.9 546.9,368.0 548.0,368.2 549.0,368.3 550.1,368.4 551.2,368.5 552.3,368.6 553.4,368.7 554.4,368.8 555.5,368.8 556.6,368.9 557.7,369.0 558.7,369.1 559.8,369.1 560.9,369.2 562.0,369.3 563.1,369.3 564.1,369.4 565.2,369.4 566.3,369.5 567.4,369.5 568.4,369.6 569.5,369.6 570.6,369.6 571.7,369.7 572.8,369.7 573.8,369.7 574.9,369.8 576.0,369.8 577.1,369.8 578.1,369.9 579.2,369.9 580.3,369.9 581.4,369.9 582.5,369.9 583.5,370.0 584.6,370.0 585.7,370.0 586.8,370.0 587.8,370.0 588.9,370.0 590.0,370.1 591.1,370.1 592.2,370.1 593.2,370.1 594.3,370.1 595.4,370.1 596.5,370.1 597.5,370.1 598.6,370.2 599.7,370.2 600.8,370.2 601.9,370.2 602.9,370.2 604.0,370.2 605.1,370.2 606.2,370.2 607.2,370.2 608.3,370.2 609.4,370.2 610.5,370.2 611.6,370.2 612.6,370.2 613.7,370.2 614.8,370.2 615.9,370.2 617.0,370.2 618.0,370.3 619.1,370.3 620.2,370.3 621.3,370.3 622.3,370.3 623.4,370.3 624.5,370.3 625.6,370.3 626.7,370.3 627.7,370.3 628.8,370.3 629.9,370.3 631.0,370.3 632.0,370.3 633.1,370.3 634.2,370.3 635.3,370.3 636.4,370.3 637.4,370.3 638.5,370.3 639.6,370.3 640.7,370.3 641.7,370.3 642.8,370.3 643.9,370.3 645.0,370.3 646.1,370.3 647.1,370.3 648.2,370.3 649.3,370.3 650.4,370.3 651.4,370.3 652.5,370.3 653.6,370.3 654.7,370.3 655.8,370.3 656.8,370.3 657.9,370.3 659.0,370.3 660.1,370.3 661.1,370.3 662.2,370.3 663.3,370.3 664.4,370.3 665.5,370.3 666.5,370.3 667.6,370.3 668.7,370.3 669.8,370.3 670.9,370.3 671.9,370.3 673.0,370.3 674.1,370.3 675.2,370.3 676.2,370.3 677.3,370.3 678.4,370.3 679.5,370.3 680.6,370.3 681.6,370.3 682.7,370.3 683.8,370.3 684.9,370.3 685.9,370.3 687.0,370.3 688.1,370.3" fill="none" stroke="#1a1a1a" stroke-width="1.85" stroke-linejoin="round" stroke-linecap="round"/>
<polyline points="450.9,385.0 452.0,385.0 453.1,385.0 454.2,385.0 455.3,385.0 456.3,385.0 456.6,385.0 456.9,385.0 457.1,385.0 457.4,385.0 457.7,381.4 457.9,377.9 458.2,374.6 458.5,371.5 458.8,368.5 459.0,365.6 459.3,362.8 459.6,360.1 459.8,357.6 460.1,355.2 460.4,352.8 460.6,350.6 460.9,348.4 461.2,346.4 461.5,344.4 461.7,342.5 462.0,340.7 462.3,338.9 462.5,337.2 462.8,335.6 463.1,334.0 463.3,332.5 463.6,331.1 463.9,329.7 465.0,324.6 466.0,320.2 467.1,316.4 468.2,313.0 469.3,310.0 470.3,307.4 471.4,305.0 472.5,302.8 473.6,300.8 474.7,299.0 475.7,297.3 476.8,295.7 477.9,294.3 479.0,292.9 480.0,291.6 481.1,290.3 482.2,289.1 483.3,288.0 484.4,286.9 485.4,285.8 486.5,284.8 487.6,283.8 488.7,282.9 489.7,282.0 490.8,281.1 491.9,280.2 493.0,279.3 494.1,278.5 495.1,277.7 496.2,277.0 497.3,276.2 498.4,275.5 499.4,274.7 500.5,274.0 501.6,273.3 502.7,272.7 503.8,272.0 504.8,271.4 505.9,270.8 507.0,270.2 508.1,269.6 509.2,269.0 510.2,268.4 511.3,267.9 512.4,267.4 513.5,266.8 514.5,266.3 515.6,265.8 516.7,265.3 517.8,264.9 518.9,264.4 519.9,263.9 520.2,263.8 520.5,263.7 520.7,264.1 521.0,264.4 521.3,264.7 521.5,264.9 521.8,265.2 522.1,265.4 522.4,265.7 522.6,265.9 522.9,266.1 523.2,266.3 523.4,266.4 523.7,266.6 524.0,266.8 524.2,266.9 524.5,267.1 524.8,267.2 525.1,267.3 525.3,267.4 525.6,267.5 525.9,267.7 526.1,267.8 526.4,267.9 526.7,268.0 526.9,268.0 527.2,268.1 527.5,268.2 527.7,268.3 528.0,268.4 528.3,268.5 528.6,268.5 529.6,268.8 530.7,269.1 531.8,269.3 532.9,269.5 533.9,269.7 535.0,269.9 536.1,270.1 537.2,270.3 538.3,270.4 539.3,270.6 540.4,270.8 541.5,270.9 542.6,271.1 543.6,271.3 544.7,271.4 545.8,271.6 546.9,271.7 548.0,271.9 549.0,272.0 550.1,272.1 551.2,272.3 552.3,272.4 553.4,272.5 554.4,272.7 555.5,272.8 556.6,272.9 557.7,273.1 558.7,273.2 559.8,273.3 560.9,273.4 562.0,273.5 563.1,273.7 564.1,273.8 565.2,273.9 566.3,274.0 567.4,274.1 568.4,274.2 569.5,274.3 570.6,274.4 571.7,274.5 572.8,274.6 573.8,274.7 574.9,274.8 576.0,274.9 577.1,275.0 578.1,275.1 579.2,275.2 580.3,275.3 581.4,275.3 582.5,275.4 583.5,275.5 584.6,275.6 585.7,275.7 586.8,275.7 587.8,275.8 588.9,275.9 590.0,276.0 591.1,276.1 592.2,276.1 593.2,276.2 594.3,276.3 595.4,276.3 596.5,276.4 597.5,276.5 598.6,276.5 599.7,276.6 600.8,276.7 601.9,276.7 602.9,276.8 604.0,276.9 605.1,276.9 606.2,277.0 607.2,277.0 608.3,277.1 609.4,277.1 610.5,277.2 611.6,277.3 612.6,277.3 613.7,277.4 614.8,277.4 615.9,277.5 617.0,277.5 618.0,277.6 619.1,277.6 620.2,277.7 621.3,277.7 622.3,277.7 623.4,277.8 624.5,277.8 625.6,277.9 626.7,277.9 627.7,278.0 628.8,278.0 629.9,278.0 631.0,278.1 632.0,278.1 633.1,278.2 634.2,278.2 635.3,278.2 636.4,278.3 637.4,278.3 638.5,278.3 639.6,278.4 640.7,278.4 641.7,278.4 642.8,278.5 643.9,278.5 645.0,278.5 646.1,278.6 647.1,278.6 648.2,278.6 649.3,278.7 650.4,278.7 651.4,278.7 652.5,278.8 653.6,278.8 654.7,278.8 655.8,278.8 656.8,278.9 657.9,278.9 659.0,278.9 660.1,278.9 661.1,279.0 662.2,279.0 663.3,279.0 664.4,279.0 665.5,279.1 666.5,279.1 667.6,279.1 668.7,279.1 669.8,279.1 670.9,279.2 671.9,279.2 673.0,279.2 674.1,279.2 675.2,279.3 676.2,279.3 677.3,279.3 678.4,279.3 679.5,279.3 680.6,279.3 681.6,279.4 682.7,279.4 683.8,279.4 684.9,279.4 685.9,279.4 687.0,279.5 688.1,279.5" fill="none" stroke="#e61f19" stroke-width="1.85" stroke-linejoin="round" stroke-linecap="round"/>
<line x1="451.40" y1="232.15" x2="451.40" y2="391.10" stroke="#1a1a1a" stroke-width="1.8"/>
<line x1="450.50" y1="390.20" x2="688.90" y2="390.20" stroke="#1a1a1a" stroke-width="1.8"/>
<line x1="445.10" y1="385.00" x2="451.40" y2="385.00" stroke="#1a1a1a" stroke-width="1.6"/>
<text transform="translate(444.0,387.6) scale(0.96,1)" font-size="10.9" text-anchor="end" fill="#222">0</text>
<line x1="445.10" y1="334.35" x2="451.40" y2="334.35" stroke="#1a1a1a" stroke-width="1.6"/>
<text transform="translate(444.0,337.0) scale(0.96,1)" font-size="10.9" text-anchor="end" fill="#222">500</text>
<line x1="445.10" y1="283.70" x2="451.40" y2="283.70" stroke="#1a1a1a" stroke-width="1.6"/>
<text transform="translate(444.0,286.3) scale(0.96,1)" font-size="10.9" text-anchor="end" fill="#222">1000</text>
<line x1="445.10" y1="233.05" x2="451.40" y2="233.05" stroke="#1a1a1a" stroke-width="1.6"/>
<text transform="translate(444.0,235.7) scale(0.96,1)" font-size="10.9" text-anchor="end" fill="#222">1500</text>
<line x1="472.50" y1="390.20" x2="472.50" y2="396.60" stroke="#1a1a1a" stroke-width="1.6"/>
<text transform="translate(472.3,408.6) scale(1.03,1)" font-size="10.4" text-anchor="middle" fill="#222">100</text>
<line x1="526.40" y1="390.20" x2="526.40" y2="396.60" stroke="#1a1a1a" stroke-width="1.6"/>
<text transform="translate(526.2,408.6) scale(1.03,1)" font-size="10.4" text-anchor="middle" fill="#222">150</text>
<line x1="580.30" y1="390.20" x2="580.30" y2="396.60" stroke="#1a1a1a" stroke-width="1.6"/>
<text transform="translate(580.1,408.6) scale(1.03,1)" font-size="10.4" text-anchor="middle" fill="#222">200</text>
<line x1="634.20" y1="390.20" x2="634.20" y2="396.60" stroke="#1a1a1a" stroke-width="1.6"/>
<text transform="translate(634.0,408.6) scale(1.03,1)" font-size="10.4" text-anchor="middle" fill="#222">250</text>
<line x1="688.10" y1="390.20" x2="688.10" y2="396.60" stroke="#1a1a1a" stroke-width="1.6"/>
<text transform="translate(687.9,408.6) scale(1.03,1)" font-size="10.4" text-anchor="middle" fill="#222">300</text>
<text transform="translate(584.3,421.3) scale(1.03,1)" font-size="10.3" text-anchor="middle" fill="#222">Time (s)</text>
<text transform="translate(415.6,307.2) rotate(-90) scale(1.0,1)" font-size="12.3" text-anchor="middle" fill="#222">Response Unit</text>
<line x1="581.10" y1="292.90" x2="598.20" y2="292.90" stroke="#1a1a1a" stroke-width="1.8"/>
<text transform="translate(607.8,296.8) scale(0.9,1)" font-size="11.1" text-anchor="start" fill="#222">HA+ 6Y13 Fab</text>
<line x1="581.10" y1="305.10" x2="598.20" y2="305.10" stroke="#1f4fc0" stroke-width="1.8"/>
<text transform="translate(607.8,309.0) scale(0.9,1)" font-size="11.1" text-anchor="start" fill="#222">HA</text>
<line x1="581.10" y1="317.20" x2="598.20" y2="317.20" stroke="#e61f19" stroke-width="1.8"/>
<text transform="translate(607.8,321.1) scale(0.9,1)" font-size="11.1" text-anchor="start" fill="#222">HA+6Y13</text>
<line x1="581.10" y1="329.90" x2="598.20" y2="329.90" stroke="#7a3fa8" stroke-width="1.8"/>
<text transform="translate(607.8,333.8) scale(0.9,1)" font-size="11.1" text-anchor="start" fill="#222">HA+L4A-14</text>
<line x1="581.10" y1="342.80" x2="598.20" y2="342.80" stroke="#138a43" stroke-width="1.8"/>
<text transform="translate(607.8,346.7) scale(0.9,1)" font-size="11.1" text-anchor="start" fill="#222">HA+H7.HK1</text>
<line x1="581.10" y1="355.70" x2="598.20" y2="355.70" stroke="#f0641e" stroke-width="1.8"/>
<text transform="translate(607.8,359.6) scale(0.9,1)" font-size="11.1" text-anchor="start" fill="#222">HA+ H7.HK1 Fab</text>
<text transform="translate(78.8,16.4) scale(0.94,1)" font-size="20.6" text-anchor="start" fill="#000">A</text>
<text transform="translate(420.7,16.2) scale(0.94,1)" font-size="20.6" text-anchor="start" fill="#000">B</text>
<text transform="translate(-0.2,232.9) scale(0.94,1)" font-size="20.6" text-anchor="start" fill="#000">C</text>
<text transform="translate(201.2,232.9) scale(0.94,1)" font-size="20.6" text-anchor="start" fill="#000">D</text>
<text transform="translate(403.7,232.9) scale(0.94,1)" font-size="20.6" text-anchor="start" fill="#000">E</text>
<text transform="translate(-0.6,441.0) scale(0.94,1)" font-size="20.6" text-anchor="start" fill="#000">F</text>
</svg>
</body></html>
